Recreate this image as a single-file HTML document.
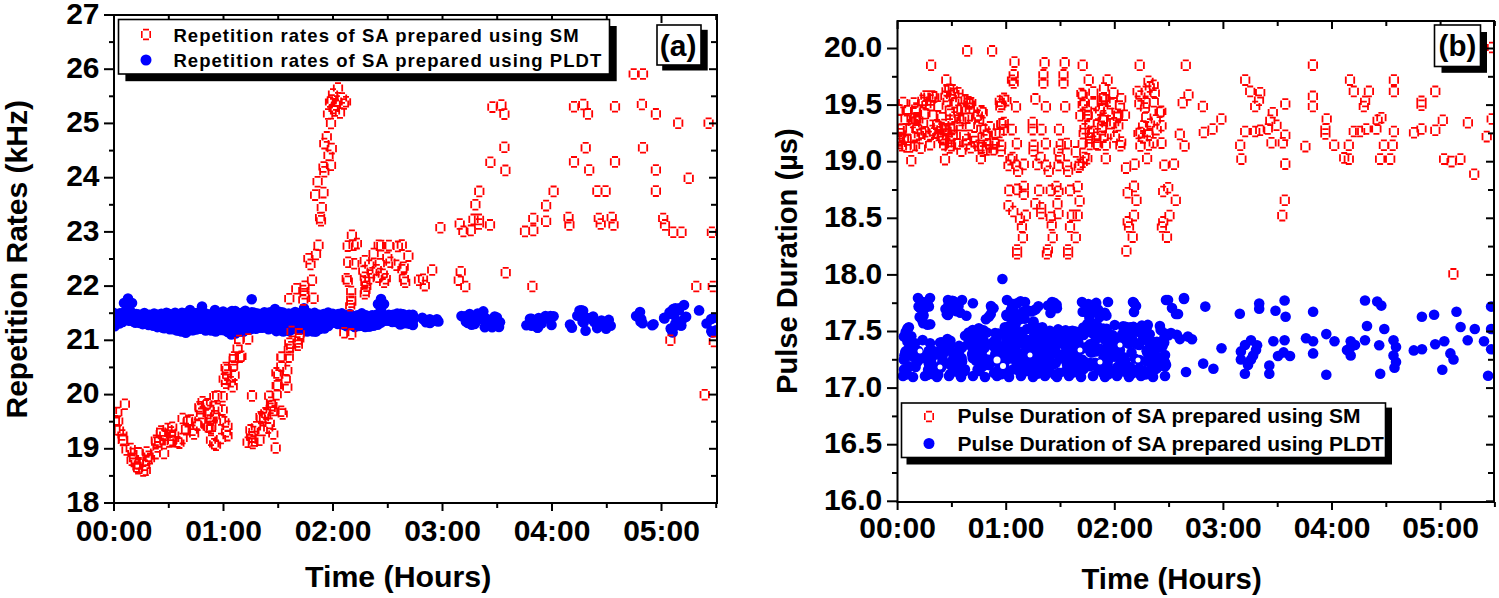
<!DOCTYPE html><html><head><meta charset="utf-8"><style>html,body{margin:0;padding:0;background:#fff;overflow:hidden}svg{display:block}</style></head><body><svg width="1499" height="598" viewBox="0 0 1499 598">
<rect width="1499" height="598" fill="#fff"/>
<defs><clipPath id="cl"><rect x="114" y="15" width="603" height="488"/></clipPath><clipPath id="cr"><rect x="898" y="21" width="596" height="481"/></clipPath></defs>
<g clip-path="url(#cl)">
<g fill="#00f">
<circle cx="251.7" cy="299.3" r="5.3"/>
<circle cx="113.4" cy="312.7" r="5.3"/>
<circle cx="113.7" cy="320.1" r="5.3"/>
<circle cx="115.5" cy="323.3" r="5.3"/>
<circle cx="114.7" cy="326.3" r="5.3"/>
<circle cx="119.9" cy="313.3" r="5.3"/>
<circle cx="120.4" cy="316.6" r="5.3"/>
<circle cx="119.3" cy="323.4" r="5.3"/>
<circle cx="123.4" cy="312.8" r="5.3"/>
<circle cx="122.6" cy="318.7" r="5.3"/>
<circle cx="122.6" cy="322.0" r="5.3"/>
<circle cx="128.0" cy="312.3" r="5.3"/>
<circle cx="129.1" cy="320.3" r="5.3"/>
<circle cx="128.9" cy="320.6" r="5.3"/>
<circle cx="131.0" cy="312.1" r="5.3"/>
<circle cx="130.9" cy="318.5" r="5.3"/>
<circle cx="130.6" cy="320.3" r="5.3"/>
<circle cx="136.2" cy="314.0" r="5.3"/>
<circle cx="133.9" cy="321.8" r="5.3"/>
<circle cx="135.4" cy="322.8" r="5.3"/>
<circle cx="138.7" cy="314.5" r="5.3"/>
<circle cx="138.1" cy="318.8" r="5.3"/>
<circle cx="139.9" cy="322.9" r="5.3"/>
<circle cx="144.4" cy="313.0" r="5.3"/>
<circle cx="144.4" cy="318.3" r="5.3"/>
<circle cx="142.7" cy="324.1" r="5.3"/>
<circle cx="143.5" cy="323.6" r="5.3"/>
<circle cx="149.4" cy="314.7" r="5.3"/>
<circle cx="148.2" cy="318.8" r="5.3"/>
<circle cx="149.2" cy="323.3" r="5.3"/>
<circle cx="148.6" cy="325.0" r="5.3"/>
<circle cx="154.1" cy="313.5" r="5.3"/>
<circle cx="152.0" cy="320.3" r="5.3"/>
<circle cx="153.9" cy="324.3" r="5.3"/>
<circle cx="153.2" cy="325.7" r="5.3"/>
<circle cx="157.3" cy="314.7" r="5.3"/>
<circle cx="157.5" cy="318.5" r="5.3"/>
<circle cx="157.0" cy="324.9" r="5.3"/>
<circle cx="157.3" cy="327.1" r="5.3"/>
<circle cx="161.3" cy="313.7" r="5.3"/>
<circle cx="163.2" cy="317.7" r="5.3"/>
<circle cx="161.5" cy="324.6" r="5.3"/>
<circle cx="162.2" cy="327.6" r="5.3"/>
<circle cx="166.4" cy="312.8" r="5.3"/>
<circle cx="164.8" cy="319.8" r="5.3"/>
<circle cx="164.8" cy="326.3" r="5.3"/>
<circle cx="164.3" cy="328.3" r="5.3"/>
<circle cx="168.7" cy="313.9" r="5.3"/>
<circle cx="169.7" cy="319.3" r="5.3"/>
<circle cx="170.6" cy="327.3" r="5.3"/>
<circle cx="169.8" cy="329.2" r="5.3"/>
<circle cx="175.1" cy="312.7" r="5.3"/>
<circle cx="173.3" cy="319.9" r="5.3"/>
<circle cx="175.0" cy="323.2" r="5.3"/>
<circle cx="172.5" cy="328.8" r="5.3"/>
<circle cx="172.7" cy="329.1" r="5.3"/>
<circle cx="178.2" cy="314.7" r="5.3"/>
<circle cx="178.8" cy="319.5" r="5.3"/>
<circle cx="176.7" cy="325.0" r="5.3"/>
<circle cx="178.9" cy="330.5" r="5.3"/>
<circle cx="176.9" cy="330.4" r="5.3"/>
<circle cx="182.0" cy="312.8" r="5.3"/>
<circle cx="181.3" cy="320.3" r="5.3"/>
<circle cx="182.1" cy="323.6" r="5.3"/>
<circle cx="182.0" cy="328.3" r="5.3"/>
<circle cx="181.4" cy="331.4" r="5.3"/>
<circle cx="184.2" cy="313.7" r="5.3"/>
<circle cx="184.9" cy="320.6" r="5.3"/>
<circle cx="186.1" cy="322.8" r="5.3"/>
<circle cx="185.1" cy="330.5" r="5.3"/>
<circle cx="185.8" cy="332.7" r="5.3"/>
<circle cx="187.4" cy="312.7" r="5.3"/>
<circle cx="189.6" cy="320.8" r="5.3"/>
<circle cx="189.0" cy="323.3" r="5.3"/>
<circle cx="188.3" cy="330.4" r="5.3"/>
<circle cx="189.6" cy="330.1" r="5.3"/>
<circle cx="191.4" cy="312.9" r="5.3"/>
<circle cx="194.0" cy="317.5" r="5.3"/>
<circle cx="193.2" cy="324.6" r="5.3"/>
<circle cx="192.9" cy="330.3" r="5.3"/>
<circle cx="192.5" cy="329.9" r="5.3"/>
<circle cx="196.5" cy="313.1" r="5.3"/>
<circle cx="197.1" cy="318.4" r="5.3"/>
<circle cx="197.0" cy="322.7" r="5.3"/>
<circle cx="196.3" cy="329.5" r="5.3"/>
<circle cx="201.0" cy="312.6" r="5.3"/>
<circle cx="200.9" cy="317.1" r="5.3"/>
<circle cx="200.5" cy="323.9" r="5.3"/>
<circle cx="199.8" cy="328.3" r="5.3"/>
<circle cx="200.3" cy="328.8" r="5.3"/>
<circle cx="205.8" cy="313.5" r="5.3"/>
<circle cx="205.6" cy="318.7" r="5.3"/>
<circle cx="205.6" cy="324.1" r="5.3"/>
<circle cx="207.0" cy="328.3" r="5.3"/>
<circle cx="205.7" cy="330.5" r="5.3"/>
<circle cx="210.6" cy="314.2" r="5.3"/>
<circle cx="210.1" cy="318.9" r="5.3"/>
<circle cx="212.2" cy="323.6" r="5.3"/>
<circle cx="210.2" cy="328.5" r="5.3"/>
<circle cx="211.1" cy="330.5" r="5.3"/>
<circle cx="214.0" cy="313.4" r="5.3"/>
<circle cx="216.6" cy="319.1" r="5.3"/>
<circle cx="216.6" cy="323.5" r="5.3"/>
<circle cx="213.8" cy="329.2" r="5.3"/>
<circle cx="215.7" cy="331.4" r="5.3"/>
<circle cx="218.9" cy="313.7" r="5.3"/>
<circle cx="220.9" cy="317.8" r="5.3"/>
<circle cx="220.0" cy="322.4" r="5.3"/>
<circle cx="220.8" cy="327.2" r="5.3"/>
<circle cx="220.8" cy="329.9" r="5.3"/>
<circle cx="223.1" cy="311.6" r="5.3"/>
<circle cx="225.6" cy="317.8" r="5.3"/>
<circle cx="223.4" cy="324.2" r="5.3"/>
<circle cx="225.3" cy="328.9" r="5.3"/>
<circle cx="224.2" cy="330.2" r="5.3"/>
<circle cx="227.7" cy="313.1" r="5.3"/>
<circle cx="228.1" cy="320.0" r="5.3"/>
<circle cx="228.9" cy="323.4" r="5.3"/>
<circle cx="227.1" cy="331.1" r="5.3"/>
<circle cx="227.8" cy="331.9" r="5.3"/>
<circle cx="232.1" cy="312.6" r="5.3"/>
<circle cx="232.0" cy="318.7" r="5.3"/>
<circle cx="232.1" cy="322.7" r="5.3"/>
<circle cx="231.3" cy="330.3" r="5.3"/>
<circle cx="231.3" cy="334.4" r="5.3"/>
<circle cx="235.2" cy="311.1" r="5.3"/>
<circle cx="235.6" cy="319.5" r="5.3"/>
<circle cx="236.3" cy="324.4" r="5.3"/>
<circle cx="237.2" cy="331.0" r="5.3"/>
<circle cx="235.4" cy="333.5" r="5.3"/>
<circle cx="238.6" cy="313.4" r="5.3"/>
<circle cx="239.8" cy="316.6" r="5.3"/>
<circle cx="238.7" cy="321.0" r="5.3"/>
<circle cx="240.0" cy="329.8" r="5.3"/>
<circle cx="239.7" cy="331.6" r="5.3"/>
<circle cx="242.7" cy="312.5" r="5.3"/>
<circle cx="243.4" cy="316.8" r="5.3"/>
<circle cx="243.8" cy="323.8" r="5.3"/>
<circle cx="243.9" cy="329.0" r="5.3"/>
<circle cx="243.3" cy="331.8" r="5.3"/>
<circle cx="245.3" cy="310.7" r="5.3"/>
<circle cx="245.3" cy="317.1" r="5.3"/>
<circle cx="245.0" cy="322.4" r="5.3"/>
<circle cx="245.4" cy="326.6" r="5.3"/>
<circle cx="246.8" cy="329.8" r="5.3"/>
<circle cx="251.9" cy="312.3" r="5.3"/>
<circle cx="251.5" cy="317.8" r="5.3"/>
<circle cx="252.1" cy="324.5" r="5.3"/>
<circle cx="249.5" cy="329.7" r="5.3"/>
<circle cx="251.4" cy="328.8" r="5.3"/>
<circle cx="254.3" cy="312.8" r="5.3"/>
<circle cx="254.7" cy="319.1" r="5.3"/>
<circle cx="253.9" cy="325.3" r="5.3"/>
<circle cx="256.0" cy="328.8" r="5.3"/>
<circle cx="255.5" cy="327.5" r="5.3"/>
<circle cx="257.7" cy="313.6" r="5.3"/>
<circle cx="260.0" cy="315.8" r="5.3"/>
<circle cx="257.5" cy="321.7" r="5.3"/>
<circle cx="259.8" cy="327.7" r="5.3"/>
<circle cx="264.4" cy="312.3" r="5.3"/>
<circle cx="263.6" cy="315.6" r="5.3"/>
<circle cx="263.1" cy="322.1" r="5.3"/>
<circle cx="264.2" cy="326.4" r="5.3"/>
<circle cx="262.7" cy="327.7" r="5.3"/>
<circle cx="269.1" cy="312.5" r="5.3"/>
<circle cx="267.1" cy="316.3" r="5.3"/>
<circle cx="269.0" cy="324.3" r="5.3"/>
<circle cx="268.5" cy="329.3" r="5.3"/>
<circle cx="271.1" cy="312.4" r="5.3"/>
<circle cx="273.1" cy="318.6" r="5.3"/>
<circle cx="273.8" cy="322.8" r="5.3"/>
<circle cx="273.5" cy="328.6" r="5.3"/>
<circle cx="276.9" cy="313.9" r="5.3"/>
<circle cx="274.4" cy="317.6" r="5.3"/>
<circle cx="275.8" cy="322.9" r="5.3"/>
<circle cx="276.7" cy="327.4" r="5.3"/>
<circle cx="276.3" cy="331.1" r="5.3"/>
<circle cx="280.2" cy="312.1" r="5.3"/>
<circle cx="279.0" cy="318.5" r="5.3"/>
<circle cx="280.7" cy="322.5" r="5.3"/>
<circle cx="281.0" cy="327.3" r="5.3"/>
<circle cx="281.2" cy="330.4" r="5.3"/>
<circle cx="283.0" cy="312.6" r="5.3"/>
<circle cx="283.2" cy="318.2" r="5.3"/>
<circle cx="283.0" cy="325.1" r="5.3"/>
<circle cx="284.9" cy="328.8" r="5.3"/>
<circle cx="283.3" cy="331.4" r="5.3"/>
<circle cx="288.7" cy="313.6" r="5.3"/>
<circle cx="286.9" cy="319.2" r="5.3"/>
<circle cx="287.3" cy="322.9" r="5.3"/>
<circle cx="287.8" cy="329.7" r="5.3"/>
<circle cx="289.2" cy="331.1" r="5.3"/>
<circle cx="292.3" cy="313.7" r="5.3"/>
<circle cx="292.3" cy="317.5" r="5.3"/>
<circle cx="291.7" cy="323.4" r="5.3"/>
<circle cx="292.4" cy="326.7" r="5.3"/>
<circle cx="291.2" cy="329.8" r="5.3"/>
<circle cx="295.2" cy="312.0" r="5.3"/>
<circle cx="297.7" cy="320.9" r="5.3"/>
<circle cx="297.6" cy="323.5" r="5.3"/>
<circle cx="297.2" cy="329.1" r="5.3"/>
<circle cx="300.1" cy="314.1" r="5.3"/>
<circle cx="300.9" cy="319.0" r="5.3"/>
<circle cx="298.4" cy="323.6" r="5.3"/>
<circle cx="298.7" cy="328.5" r="5.3"/>
<circle cx="301.9" cy="312.5" r="5.3"/>
<circle cx="302.1" cy="317.7" r="5.3"/>
<circle cx="303.5" cy="324.1" r="5.3"/>
<circle cx="304.6" cy="327.6" r="5.3"/>
<circle cx="302.4" cy="329.3" r="5.3"/>
<circle cx="309.0" cy="313.3" r="5.3"/>
<circle cx="307.3" cy="317.9" r="5.3"/>
<circle cx="308.6" cy="324.0" r="5.3"/>
<circle cx="308.1" cy="329.0" r="5.3"/>
<circle cx="307.2" cy="331.4" r="5.3"/>
<circle cx="311.3" cy="314.2" r="5.3"/>
<circle cx="311.4" cy="317.6" r="5.3"/>
<circle cx="313.4" cy="322.3" r="5.3"/>
<circle cx="311.9" cy="328.1" r="5.3"/>
<circle cx="313.0" cy="331.5" r="5.3"/>
<circle cx="314.6" cy="312.9" r="5.3"/>
<circle cx="315.4" cy="318.0" r="5.3"/>
<circle cx="316.0" cy="323.1" r="5.3"/>
<circle cx="315.7" cy="328.9" r="5.3"/>
<circle cx="315.9" cy="331.6" r="5.3"/>
<circle cx="319.5" cy="314.9" r="5.3"/>
<circle cx="321.3" cy="319.4" r="5.3"/>
<circle cx="319.0" cy="325.0" r="5.3"/>
<circle cx="319.6" cy="329.0" r="5.3"/>
<circle cx="323.7" cy="314.1" r="5.3"/>
<circle cx="325.8" cy="317.6" r="5.3"/>
<circle cx="325.0" cy="322.1" r="5.3"/>
<circle cx="324.5" cy="328.4" r="5.3"/>
<circle cx="328.1" cy="312.5" r="5.3"/>
<circle cx="327.8" cy="319.7" r="5.3"/>
<circle cx="328.4" cy="324.1" r="5.3"/>
<circle cx="328.4" cy="325.9" r="5.3"/>
<circle cx="332.8" cy="313.9" r="5.3"/>
<circle cx="334.3" cy="317.5" r="5.3"/>
<circle cx="334.0" cy="322.8" r="5.3"/>
<circle cx="338.2" cy="314.0" r="5.3"/>
<circle cx="339.6" cy="319.8" r="5.3"/>
<circle cx="337.8" cy="323.9" r="5.3"/>
<circle cx="341.8" cy="313.4" r="5.3"/>
<circle cx="343.2" cy="319.9" r="5.3"/>
<circle cx="343.1" cy="324.6" r="5.3"/>
<circle cx="347.5" cy="315.3" r="5.3"/>
<circle cx="345.9" cy="321.8" r="5.3"/>
<circle cx="346.3" cy="326.1" r="5.3"/>
<circle cx="349.9" cy="314.0" r="5.3"/>
<circle cx="350.2" cy="322.1" r="5.3"/>
<circle cx="350.2" cy="325.1" r="5.3"/>
<circle cx="353.0" cy="316.1" r="5.3"/>
<circle cx="353.6" cy="320.3" r="5.3"/>
<circle cx="354.7" cy="327.0" r="5.3"/>
<circle cx="357.3" cy="315.4" r="5.3"/>
<circle cx="359.6" cy="319.7" r="5.3"/>
<circle cx="359.6" cy="325.5" r="5.3"/>
<circle cx="358.7" cy="326.0" r="5.3"/>
<circle cx="361.8" cy="313.4" r="5.3"/>
<circle cx="363.1" cy="318.5" r="5.3"/>
<circle cx="363.1" cy="325.8" r="5.3"/>
<circle cx="361.9" cy="325.5" r="5.3"/>
<circle cx="366.0" cy="315.4" r="5.3"/>
<circle cx="365.1" cy="323.0" r="5.3"/>
<circle cx="365.2" cy="326.9" r="5.3"/>
<circle cx="371.2" cy="315.8" r="5.3"/>
<circle cx="369.2" cy="320.1" r="5.3"/>
<circle cx="368.4" cy="326.5" r="5.3"/>
<circle cx="369.8" cy="326.5" r="5.3"/>
<circle cx="372.4" cy="315.2" r="5.3"/>
<circle cx="372.8" cy="318.4" r="5.3"/>
<circle cx="372.9" cy="324.0" r="5.3"/>
<circle cx="373.6" cy="325.8" r="5.3"/>
<circle cx="376.4" cy="314.9" r="5.3"/>
<circle cx="376.0" cy="321.7" r="5.3"/>
<circle cx="377.7" cy="324.8" r="5.3"/>
<circle cx="382.8" cy="316.2" r="5.3"/>
<circle cx="381.6" cy="321.2" r="5.3"/>
<circle cx="380.8" cy="322.7" r="5.3"/>
<circle cx="383.5" cy="315.2" r="5.3"/>
<circle cx="385.2" cy="320.5" r="5.3"/>
<circle cx="385.1" cy="320.6" r="5.3"/>
<circle cx="388.8" cy="314.8" r="5.3"/>
<circle cx="388.9" cy="320.7" r="5.3"/>
<circle cx="388.1" cy="320.1" r="5.3"/>
<circle cx="393.1" cy="314.8" r="5.3"/>
<circle cx="392.3" cy="319.6" r="5.3"/>
<circle cx="392.3" cy="322.0" r="5.3"/>
<circle cx="397.2" cy="313.6" r="5.3"/>
<circle cx="395.7" cy="319.8" r="5.3"/>
<circle cx="395.9" cy="321.9" r="5.3"/>
<circle cx="400.6" cy="313.8" r="5.3"/>
<circle cx="401.7" cy="321.8" r="5.3"/>
<circle cx="400.3" cy="324.5" r="5.3"/>
<circle cx="403.3" cy="314.2" r="5.3"/>
<circle cx="403.9" cy="321.3" r="5.3"/>
<circle cx="404.7" cy="323.2" r="5.3"/>
<circle cx="409.1" cy="314.8" r="5.3"/>
<circle cx="408.3" cy="320.0" r="5.3"/>
<circle cx="408.7" cy="323.6" r="5.3"/>
<circle cx="412.9" cy="314.9" r="5.3"/>
<circle cx="413.2" cy="320.3" r="5.3"/>
<circle cx="412.9" cy="324.9" r="5.3"/>
<circle cx="128.0" cy="298.5" r="5.3"/>
<circle cx="124.0" cy="303.0" r="5.3"/>
<circle cx="132.0" cy="303.0" r="5.3"/>
<circle cx="128.0" cy="308.0" r="5.3"/>
<circle cx="381.0" cy="299.0" r="5.3"/>
<circle cx="378.0" cy="304.0" r="5.3"/>
<circle cx="384.0" cy="304.0" r="5.3"/>
<circle cx="381.0" cy="309.0" r="5.3"/>
<circle cx="190.0" cy="310.0" r="5.3"/>
<circle cx="202.0" cy="306.5" r="5.3"/>
<circle cx="215.0" cy="310.0" r="5.3"/>
<circle cx="232.0" cy="311.0" r="5.3"/>
<circle cx="275.0" cy="309.0" r="5.3"/>
<circle cx="304.0" cy="308.3" r="5.3"/>
<circle cx="406.0" cy="321.4" r="5.3"/>
<circle cx="409.4" cy="316.1" r="5.3"/>
<circle cx="408.6" cy="321.4" r="5.3"/>
<circle cx="406.4" cy="321.1" r="5.3"/>
<circle cx="404.3" cy="322.8" r="5.3"/>
<circle cx="405.4" cy="322.0" r="5.3"/>
<circle cx="422.3" cy="317.7" r="5.3"/>
<circle cx="430.0" cy="322.9" r="5.3"/>
<circle cx="425.9" cy="322.2" r="5.3"/>
<circle cx="423.2" cy="319.2" r="5.3"/>
<circle cx="438.4" cy="321.5" r="5.3"/>
<circle cx="429.8" cy="319.3" r="5.3"/>
<circle cx="436.2" cy="320.9" r="5.3"/>
<circle cx="436.9" cy="319.2" r="5.3"/>
<circle cx="469.8" cy="323.0" r="5.3"/>
<circle cx="484.4" cy="320.3" r="5.3"/>
<circle cx="494.7" cy="316.5" r="5.3"/>
<circle cx="492.1" cy="327.2" r="5.3"/>
<circle cx="470.9" cy="320.6" r="5.3"/>
<circle cx="482.8" cy="319.4" r="5.3"/>
<circle cx="465.9" cy="321.6" r="5.3"/>
<circle cx="500.0" cy="322.3" r="5.3"/>
<circle cx="471.6" cy="324.7" r="5.3"/>
<circle cx="477.7" cy="313.5" r="5.3"/>
<circle cx="486.5" cy="318.8" r="5.3"/>
<circle cx="484.8" cy="327.2" r="5.3"/>
<circle cx="474.6" cy="323.9" r="5.3"/>
<circle cx="461.5" cy="316.1" r="5.3"/>
<circle cx="490.5" cy="322.7" r="5.3"/>
<circle cx="496.9" cy="317.5" r="5.3"/>
<circle cx="470.9" cy="317.1" r="5.3"/>
<circle cx="483.3" cy="311.4" r="5.3"/>
<circle cx="475.6" cy="322.2" r="5.3"/>
<circle cx="465.0" cy="316.3" r="5.3"/>
<circle cx="499.0" cy="326.9" r="5.3"/>
<circle cx="469.7" cy="314.0" r="5.3"/>
<circle cx="495.3" cy="323.6" r="5.3"/>
<circle cx="470.4" cy="319.3" r="5.3"/>
<circle cx="496.5" cy="325.6" r="5.3"/>
<circle cx="467.9" cy="323.0" r="5.3"/>
<circle cx="545.3" cy="318.4" r="5.3"/>
<circle cx="550.5" cy="316.1" r="5.3"/>
<circle cx="538.7" cy="318.0" r="5.3"/>
<circle cx="537.8" cy="327.4" r="5.3"/>
<circle cx="541.5" cy="323.6" r="5.3"/>
<circle cx="553.6" cy="316.2" r="5.3"/>
<circle cx="531.5" cy="323.8" r="5.3"/>
<circle cx="534.9" cy="320.4" r="5.3"/>
<circle cx="537.5" cy="327.7" r="5.3"/>
<circle cx="551.5" cy="324.9" r="5.3"/>
<circle cx="530.0" cy="318.7" r="5.3"/>
<circle cx="545.5" cy="316.1" r="5.3"/>
<circle cx="531.6" cy="318.9" r="5.3"/>
<circle cx="531.6" cy="325.7" r="5.3"/>
<circle cx="526.4" cy="325.2" r="5.3"/>
<circle cx="571.9" cy="327.7" r="5.3"/>
<circle cx="594.5" cy="322.2" r="5.3"/>
<circle cx="585.6" cy="330.7" r="5.3"/>
<circle cx="597.2" cy="328.1" r="5.3"/>
<circle cx="570.0" cy="324.6" r="5.3"/>
<circle cx="577.3" cy="315.7" r="5.3"/>
<circle cx="600.4" cy="324.6" r="5.3"/>
<circle cx="584.2" cy="319.8" r="5.3"/>
<circle cx="582.6" cy="321.8" r="5.3"/>
<circle cx="585.7" cy="317.6" r="5.3"/>
<circle cx="580.7" cy="316.1" r="5.3"/>
<circle cx="581.3" cy="310.3" r="5.3"/>
<circle cx="583.6" cy="322.4" r="5.3"/>
<circle cx="581.6" cy="312.4" r="5.3"/>
<circle cx="608.8" cy="319.9" r="5.3"/>
<circle cx="593.1" cy="316.5" r="5.3"/>
<circle cx="610.7" cy="325.8" r="5.3"/>
<circle cx="598.3" cy="323.8" r="5.3"/>
<circle cx="601.5" cy="320.5" r="5.3"/>
<circle cx="588.4" cy="318.2" r="5.3"/>
<circle cx="592.7" cy="319.8" r="5.3"/>
<circle cx="593.9" cy="321.2" r="5.3"/>
<circle cx="606.1" cy="328.7" r="5.3"/>
<circle cx="579.5" cy="310.5" r="5.3"/>
<circle cx="583.1" cy="310.7" r="5.3"/>
<circle cx="606.4" cy="323.0" r="5.3"/>
<circle cx="636.1" cy="316.1" r="5.3"/>
<circle cx="642.6" cy="323.2" r="5.3"/>
<circle cx="640.5" cy="321.6" r="5.3"/>
<circle cx="641.2" cy="319.0" r="5.3"/>
<circle cx="664.5" cy="318.5" r="5.3"/>
<circle cx="669.5" cy="312.4" r="5.3"/>
<circle cx="673.3" cy="309.0" r="5.3"/>
<circle cx="653.5" cy="324.3" r="5.3"/>
<circle cx="672.7" cy="310.3" r="5.3"/>
<circle cx="652.2" cy="325.3" r="5.3"/>
<circle cx="679.1" cy="308.2" r="5.3"/>
<circle cx="670.1" cy="313.7" r="5.3"/>
<circle cx="679.0" cy="310.1" r="5.3"/>
<circle cx="675.3" cy="308.2" r="5.3"/>
<circle cx="672.3" cy="313.7" r="5.3"/>
<circle cx="664.1" cy="317.9" r="5.3"/>
<circle cx="675.1" cy="325.8" r="5.3"/>
<circle cx="671.5" cy="329.5" r="5.3"/>
<circle cx="670.7" cy="328.5" r="5.3"/>
<circle cx="675.4" cy="323.6" r="5.3"/>
<circle cx="686.1" cy="316.8" r="5.3"/>
<circle cx="685.3" cy="317.1" r="5.3"/>
<circle cx="681.5" cy="321.1" r="5.3"/>
<circle cx="699.1" cy="310.4" r="5.3"/>
<circle cx="681.3" cy="325.4" r="5.3"/>
<circle cx="680.9" cy="325.4" r="5.3"/>
<circle cx="672.6" cy="332.5" r="5.3"/>
<circle cx="680.6" cy="322.7" r="5.3"/>
<circle cx="715.5" cy="331.4" r="5.3"/>
<circle cx="711.3" cy="331.2" r="5.3"/>
<circle cx="716.0" cy="330.4" r="5.3"/>
<circle cx="712.2" cy="332.4" r="5.3"/>
<circle cx="706.6" cy="323.5" r="5.3"/>
<circle cx="711.2" cy="319.1" r="5.3"/>
<circle cx="713.6" cy="318.0" r="5.3"/>
<circle cx="684.0" cy="305.0" r="5.3"/>
<circle cx="640.0" cy="312.0" r="5.3"/>
<circle cx="674.0" cy="315.0" r="5.3"/>
</g>
<g fill="none" stroke="#f00" stroke-width="1.8">
<path d="M121.9 399.3h6M129.1 400.6v7.2M127.9 409.1h-6M120.7 407.8v-7.2M114.3 407.7h6M121.5 409.0v7.2M120.3 417.5h-6M113.1 416.2v-7.2M115.2 416.1h6M122.4 417.4v7.2M121.2 425.9h-6M114.0 424.6v-7.2M116.0 425.1h6M123.2 426.4v7.2M122.0 434.9h-6M114.8 433.6v-7.2M119.4 430.1h6M126.6 431.4v7.2M125.4 439.9h-6M118.2 438.6v-7.2M120.2 434.5h6M127.4 435.8v7.2M126.2 444.3h-6M119.0 443.0v-7.2M123.5 445.1h6M130.7 446.4v7.2M129.5 454.9h-6M122.3 453.6v-7.2M127.7 443.7h6M134.9 445.0v7.2M133.7 453.5h-6M126.5 452.2v-7.2M129.4 448.7h6M136.6 450.0v7.2M135.4 458.5h-6M128.2 457.2v-7.2M131.0 453.7h6M138.2 455.0v7.2M137.0 463.5h-6M129.8 462.2v-7.2M128.6 455.4h6M135.8 456.7v7.2M134.6 465.2h-6M127.4 463.9v-7.2M132.7 458.7h6M139.9 460.0v7.2M138.7 468.5h-6M131.5 467.2v-7.2M134.4 462.1h6M141.6 463.4v7.2M140.4 471.9h-6M133.2 470.6v-7.2M142.8 465.4h6M150.0 466.7v7.2M148.8 475.2h-6M141.6 473.9v-7.2M142.0 460.4h6M149.2 461.7v7.2M148.0 470.2h-6M140.8 468.9v-7.2M144.4 455.4h6M151.6 456.7v7.2M150.4 465.2h-6M143.2 463.9v-7.2M143.6 447.1h6M150.8 448.4v7.2M149.6 456.9h-6M142.4 455.6v-7.2M147.0 453.7h6M154.2 455.0v7.2M153.0 463.5h-6M145.8 462.2v-7.2M152.8 448.7h6M160.0 450.0v7.2M158.8 458.5h-6M151.6 457.2v-7.2M154.5 442.0h6M161.7 443.3v7.2M160.5 451.8h-6M153.3 450.5v-7.2M156.0 437.0h6M163.2 438.3v7.2M162.0 446.8h-6M154.8 445.5v-7.2M152.8 435.3h6M160.0 436.6v7.2M158.8 445.1h-6M151.6 443.8v-7.2M157.8 428.6h6M165.0 429.9v7.2M163.8 438.4h-6M156.6 437.1v-7.2M161.2 430.3h6M168.4 431.6v7.2M167.2 440.1h-6M160.0 438.8v-7.2M164.5 423.6h6M171.7 424.9v7.2M170.5 433.4h-6M163.3 432.1v-7.2M167.9 430.3h6M175.1 431.6v7.2M173.9 440.1h-6M166.7 438.8v-7.2M166.2 437.0h6M173.4 438.3v7.2M172.2 446.8h-6M165.0 445.5v-7.2M171.2 430.3h6M178.4 431.6v7.2M177.2 440.1h-6M170.0 438.8v-7.2M174.5 437.0h6M181.7 438.3v7.2M180.5 446.8h-6M173.3 445.5v-7.2M179.6 433.6h6M186.8 434.9v7.2M185.6 443.4h-6M178.4 442.1v-7.2M179.6 413.6h6M186.8 414.9v7.2M185.6 423.4h-6M178.4 422.1v-7.2M183.0 423.6h6M190.2 424.9v7.2M189.0 433.4h-6M181.8 432.1v-7.2M184.6 416.9h6M191.8 418.2v7.2M190.6 426.7h-6M183.4 425.4v-7.2M188.0 415.1h6M195.2 416.4v7.2M194.0 424.9h-6M186.8 423.6v-7.2M189.6 425.3h6M196.8 426.6v7.2M195.6 435.1h-6M188.4 433.8v-7.2M194.6 420.3h6M201.8 421.6v7.2M200.6 430.1h-6M193.4 428.8v-7.2M196.3 401.9h6M203.5 403.2v7.2M202.3 411.7h-6M195.1 410.4v-7.2M198.0 408.5h6M205.2 409.8v7.2M204.0 418.3h-6M196.8 417.0v-7.2M199.6 396.8h6M206.8 398.1v7.2M205.6 406.6h-6M198.4 405.3v-7.2M203.0 400.1h6M210.2 401.4v7.2M209.0 409.9h-6M201.8 408.6v-7.2M204.6 408.5h6M211.8 409.8v7.2M210.6 418.3h-6M203.4 417.0v-7.2M206.3 415.2h6M213.5 416.5v7.2M212.3 425.0h-6M205.1 423.7v-7.2M208.0 423.6h6M215.2 424.9v7.2M214.0 433.4h-6M206.8 432.1v-7.2M204.6 421.9h6M211.8 423.2v7.2M210.6 431.7h-6M203.4 430.4v-7.2M208.0 435.3h6M215.2 436.6v7.2M214.0 445.1h-6M206.8 443.8v-7.2M213.0 440.3h6M220.2 441.6v7.2M219.0 450.1h-6M211.8 448.8v-7.2M211.3 391.8h6M218.5 393.1v7.2M217.3 401.6h-6M210.1 400.3v-7.2M214.7 403.5h6M221.9 404.8v7.2M220.7 413.3h-6M213.5 412.0v-7.2M219.7 405.1h6M226.9 406.4v7.2M225.7 414.9h-6M218.5 413.6v-7.2M221.4 416.9h6M228.6 418.2v7.2M227.4 426.7h-6M220.2 425.4v-7.2M218.0 415.1h6M225.2 416.4v7.2M224.0 424.9h-6M216.8 423.6v-7.2M223.0 426.9h6M230.2 428.2v7.2M229.0 436.7h-6M221.8 435.4v-7.2M218.0 433.6h6M225.2 434.9v7.2M224.0 443.4h-6M216.8 442.1v-7.2M219.7 391.8h6M226.9 393.1v7.2M225.7 401.6h-6M218.5 400.3v-7.2M223.0 378.4h6M230.2 379.7v7.2M229.0 388.2h-6M221.8 386.9v-7.2M229.7 381.8h6M236.9 383.1v7.2M235.7 391.6h-6M228.5 390.3v-7.2M249.0 391.0h6M256.2 392.3v7.2M255.0 400.8h-6M247.8 399.5v-7.2M248.0 432.0h6M255.2 433.3v7.2M254.0 441.8h-6M246.8 440.5v-7.2M253.0 421.9h6M260.2 423.2v7.2M259.0 431.7h-6M251.8 430.4v-7.2M258.0 413.6h6M265.2 414.9v7.2M264.0 423.4h-6M256.8 422.1v-7.2M249.8 438.6h6M257.0 439.9v7.2M255.8 448.4h-6M248.6 447.1v-7.2M256.5 435.3h6M263.7 436.6v7.2M262.5 445.1h-6M255.3 443.8v-7.2M335.0 83.1h6M342.2 84.4v7.2M341.0 92.9h-6M333.8 91.6v-7.2M330.0 89.1h6M337.2 90.4v7.2M336.0 98.9h-6M328.8 97.6v-7.2M339.0 93.1h6M346.2 94.4v7.2M345.0 102.9h-6M337.8 101.6v-7.2M327.0 97.1h6M334.2 98.4v7.2M333.0 106.9h-6M325.8 105.6v-7.2M333.0 100.1h6M340.2 101.4v7.2M339.0 109.9h-6M331.8 108.6v-7.2M341.0 99.1h6M348.2 100.4v7.2M347.0 108.9h-6M339.8 107.6v-7.2M332.0 106.1h6M339.2 107.4v7.2M338.0 115.9h-6M330.8 114.6v-7.2M337.0 108.1h6M344.2 109.4v7.2M343.0 117.9h-6M335.8 116.6v-7.2M325.0 109.1h6M332.2 110.4v7.2M331.0 118.9h-6M323.8 117.6v-7.2M328.8 95.2h6M336.0 96.5v7.2M334.8 105.0h-6M327.6 103.7v-7.2M333.9 96.1h6M341.1 97.4v7.2M339.9 105.9h-6M332.7 104.6v-7.2M343.0 96.9h6M350.2 98.2v7.2M349.0 106.7h-6M341.8 105.4v-7.2M330.5 103.6h6M337.7 104.9v7.2M336.5 113.4h-6M329.3 112.1v-7.2M328.0 118.6h6M335.2 119.9v7.2M334.0 128.4h-6M326.8 127.1v-7.2M323.8 132.0h6M331.0 133.3v7.2M329.8 141.8h-6M322.6 140.5v-7.2M321.3 138.7h6M328.5 140.0v7.2M327.3 148.5h-6M320.1 147.2v-7.2M328.8 143.7h6M336.0 145.0v7.2M334.8 153.5h-6M327.6 152.2v-7.2M325.5 150.4h6M332.7 151.7v7.2M331.5 160.2h-6M324.3 158.9v-7.2M320.5 162.1h6M327.7 163.4v7.2M326.5 171.9h-6M319.3 170.6v-7.2M328.0 160.4h6M335.2 161.7v7.2M334.0 170.2h-6M326.8 168.9v-7.2M321.3 166.8h6M328.5 168.1v7.2M327.3 176.6h-6M320.1 175.3v-7.2M314.6 176.8h6M321.8 178.1v7.2M320.6 186.6h-6M313.4 185.3v-7.2M320.5 187.7h6M327.7 189.0v7.2M326.5 197.5h-6M319.3 196.2v-7.2M312.1 190.2h6M319.3 191.5v7.2M318.1 200.0h-6M310.9 198.7v-7.2M318.8 202.8h6M326.0 204.1v7.2M324.8 212.6h-6M317.6 211.3v-7.2M317.1 212.8h6M324.3 214.1v7.2M323.1 222.6h-6M315.9 221.3v-7.2M315.5 240.4h6M322.7 241.7v7.2M321.5 250.2h-6M314.3 248.9v-7.2M313.0 249.6h6M320.2 250.9v7.2M319.0 259.4h-6M311.8 258.1v-7.2M305.4 253.8h6M312.6 255.1v7.2M311.4 263.6h-6M304.2 262.3v-7.2M348.9 230.4h6M356.1 231.7v7.2M354.9 240.2h-6M347.7 238.9v-7.2M350.6 240.4h6M357.8 241.7v7.2M356.6 250.2h-6M349.4 248.9v-7.2M344.7 241.2h6M351.9 242.5v7.2M350.7 251.0h-6M343.5 249.7v-7.2M353.9 238.7h6M361.1 240.0v7.2M359.9 248.5h-6M352.7 247.2v-7.2M375.7 240.4h6M382.9 241.7v7.2M381.7 250.2h-6M374.5 248.9v-7.2M370.6 248.7h6M377.8 250.0v7.2M376.6 258.5h-6M369.4 257.2v-7.2M318.0 215.9h6M325.2 217.2v7.2M324.0 225.7h-6M316.8 224.4v-7.2M307.5 259.5h6M314.7 260.8v7.2M313.5 269.3h-6M306.3 268.0v-7.2M309.0 275.3h6M316.2 276.6v7.2M315.0 285.1h-6M307.8 283.8v-7.2M301.5 281.4h6M308.7 282.7v7.2M307.5 291.2h-6M300.3 289.9v-7.2M301.5 288.9h6M308.7 290.2v7.2M307.5 298.7h-6M300.3 297.4v-7.2M310.6 293.4h6M317.8 294.7v7.2M316.6 303.2h-6M309.4 301.9v-7.2M345.2 257.3h6M352.4 258.6v7.2M351.2 267.1h-6M344.0 265.8v-7.2M351.2 258.8h6M358.4 260.1v7.2M357.2 268.6h-6M350.0 267.3v-7.2M343.7 273.8h6M350.9 275.1v7.2M349.7 283.6h-6M342.5 282.3v-7.2M348.2 286.6h6M355.4 287.9v7.2M354.2 296.4h-6M347.0 295.1v-7.2M348.2 294.1h6M355.4 295.4v7.2M354.2 303.9h-6M347.0 302.6v-7.2M361.8 255.8h6M369.0 257.1v7.2M367.8 265.6h-6M360.6 264.3v-7.2M366.3 260.3h6M373.5 261.6v7.2M372.3 270.1h-6M365.1 268.8v-7.2M360.3 266.3h6M367.5 267.6v7.2M366.3 276.1h-6M359.1 274.8v-7.2M361.8 272.3h6M369.0 273.6v7.2M367.8 282.1h-6M360.6 280.8v-7.2M366.3 273.8h6M373.5 275.1v7.2M372.3 283.6h-6M365.1 282.3v-7.2M363.3 281.4h6M370.5 282.7v7.2M369.3 291.2h-6M362.1 289.9v-7.2M361.8 288.9h6M369.0 290.2v7.2M367.8 298.7h-6M360.6 297.4v-7.2M378.3 240.7h6M385.5 242.0v7.2M384.3 250.5h-6M377.1 249.2v-7.2M385.9 240.7h6M393.1 242.0v7.2M391.9 250.5h-6M384.7 249.2v-7.2M394.9 241.5h6M402.1 242.8v7.2M400.9 251.3h-6M393.7 250.0v-7.2M405.4 251.2h6M412.6 252.5v7.2M411.4 261.0h-6M404.2 259.7v-7.2M384.3 252.7h6M391.5 254.0v7.2M390.3 262.5h-6M383.1 261.2v-7.2M387.4 257.3h6M394.6 258.6v7.2M393.4 267.1h-6M386.2 265.8v-7.2M376.8 258.8h6M384.0 260.1v7.2M382.8 268.6h-6M375.6 267.3v-7.2M373.8 264.8h6M381.0 266.1v7.2M379.8 274.6h-6M372.6 273.3v-7.2M379.8 269.3h6M387.0 270.6v7.2M385.8 279.1h-6M378.6 277.8v-7.2M382.8 273.8h6M390.0 275.1v7.2M388.8 283.6h-6M381.6 282.3v-7.2M375.3 272.3h6M382.5 273.6v7.2M381.3 282.1h-6M374.1 280.8v-7.2M393.4 260.3h6M400.6 261.6v7.2M399.4 270.1h-6M392.2 268.8v-7.2M399.4 264.8h6M406.6 266.1v7.2M405.4 274.6h-6M398.2 273.3v-7.2M400.9 273.8h6M408.1 275.1v7.2M406.9 283.6h-6M399.7 282.3v-7.2M369.3 267.8h6M376.5 269.1v7.2M375.3 277.6h-6M368.1 276.3v-7.2M416.0 275.3h6M423.2 276.6v7.2M422.0 285.1h-6M414.8 283.8v-7.2M489.4 102.2h6M496.6 103.5v7.2M495.4 112.0h-6M488.2 110.7v-7.2M498.4 100.2h6M505.6 101.5v7.2M504.4 110.0h-6M497.2 108.7v-7.2M501.4 109.2h6M508.6 110.5v7.2M507.4 119.0h-6M500.2 117.7v-7.2M501.4 142.4h6M508.6 143.7v7.2M507.4 152.2h-6M500.2 150.9v-7.2M487.4 157.4h6M494.6 158.7v7.2M493.4 167.2h-6M486.2 165.9v-7.2M502.4 165.5h6M509.6 166.8v7.2M508.4 175.3h-6M501.2 174.0v-7.2M476.3 186.5h6M483.5 187.8v7.2M482.3 196.3h-6M475.1 195.0v-7.2M550.6 186.5h6M557.8 187.8v7.2M556.6 196.3h-6M549.4 195.0v-7.2M472.4 199.8h6M479.6 201.1v7.2M478.4 209.6h-6M471.2 208.3v-7.2M543.1 200.7h6M550.3 202.0v7.2M549.1 210.5h-6M541.9 209.2v-7.2M437.4 222.8h6M444.6 224.1v7.2M443.4 232.6h-6M436.2 231.3v-7.2M456.7 219.1h6M463.9 220.4v7.2M462.7 228.9h-6M455.5 227.6v-7.2M460.4 226.5h6M467.6 227.8v7.2M466.4 236.3h-6M459.2 235.0v-7.2M467.8 225.5h6M475.0 226.8v7.2M473.8 235.3h-6M466.6 234.0v-7.2M470.5 214.5h6M477.7 215.8v7.2M476.5 224.3h-6M469.3 223.0v-7.2M476.0 214.5h6M483.2 215.8v7.2M482.0 224.3h-6M474.8 223.0v-7.2M476.0 219.1h6M483.2 220.4v7.2M482.0 228.9h-6M474.8 227.6v-7.2M487.0 220.0h6M494.2 221.3v7.2M493.0 229.8h-6M485.8 228.5v-7.2M530.3 213.6h6M537.5 214.9v7.2M536.3 223.4h-6M529.1 222.1v-7.2M543.1 216.4h6M550.3 217.7v7.2M549.1 226.2h-6M541.9 224.9v-7.2M522.0 226.5h6M529.2 227.8v7.2M528.0 236.3h-6M520.8 235.0v-7.2M530.3 225.5h6M537.5 226.8v7.2M536.3 235.3h-6M529.1 234.0v-7.2M398.8 240.2h6M406.0 241.5v7.2M404.8 250.0h-6M397.6 248.7v-7.2M400.7 262.3h6M407.9 263.6v7.2M406.7 272.1h-6M399.5 270.8v-7.2M429.2 265.1h6M436.4 266.4v7.2M435.2 274.9h-6M428.0 273.6v-7.2M420.0 274.3h6M427.2 275.6v7.2M426.0 284.1h-6M418.8 282.8v-7.2M421.8 280.7h6M429.0 282.0v7.2M427.8 290.5h-6M420.6 289.2v-7.2M457.7 266.9h6M464.9 268.2v7.2M463.7 276.7h-6M456.5 275.4v-7.2M455.8 275.2h6M463.0 276.5v7.2M461.8 285.0h-6M454.6 283.7v-7.2M462.3 281.6h6M469.5 282.9v7.2M468.3 291.4h-6M461.1 290.1v-7.2M502.7 267.8h6M509.9 269.1v7.2M508.7 277.6h-6M501.5 276.3v-7.2M529.4 281.6h6M536.6 282.9v7.2M535.4 291.4h-6M528.2 290.1v-7.2M630.7 69.1h6M637.9 70.4v7.2M636.7 78.9h-6M629.5 77.6v-7.2M640.0 69.1h6M647.2 70.4v7.2M646.0 78.9h-6M638.8 77.6v-7.2M571.0 101.9h6M578.2 103.2v7.2M577.0 111.7h-6M569.8 110.4v-7.2M580.3 99.6h6M587.5 100.9v7.2M586.3 109.4h-6M579.1 108.1v-7.2M585.0 109.0h6M592.2 110.3v7.2M591.0 118.8h-6M583.8 117.5v-7.2M612.0 101.9h6M619.2 103.2v7.2M618.0 111.7h-6M610.8 110.4v-7.2M638.9 99.6h6M646.1 100.9v7.2M644.9 109.4h-6M637.7 108.1v-7.2M652.9 109.0h6M660.1 110.3v7.2M658.9 118.8h-6M651.7 117.5v-7.2M675.2 118.3h6M682.4 119.6v7.2M681.2 128.1h-6M674.0 126.8v-7.2M705.6 118.3h6M712.8 119.6v7.2M711.6 128.1h-6M704.4 126.8v-7.2M582.7 142.9h6M589.9 144.2v7.2M588.7 152.7h-6M581.5 151.4v-7.2M640.0 142.9h6M647.2 144.2v7.2M646.0 152.7h-6M638.8 151.4v-7.2M571.0 157.0h6M578.2 158.3v7.2M577.0 166.8h-6M569.8 165.5v-7.2M612.0 157.0h6M619.2 158.3v7.2M618.0 166.8h-6M610.8 165.5v-7.2M586.2 165.1h6M593.4 166.4v7.2M592.2 174.9h-6M585.0 173.6v-7.2M652.9 165.1h6M660.1 166.4v7.2M658.9 174.9h-6M651.7 173.6v-7.2M685.7 173.4h6M692.9 174.7v7.2M691.7 183.2h-6M684.5 181.9v-7.2M594.4 186.2h6M601.6 187.5v7.2M600.4 196.0h-6M593.2 194.7v-7.2M602.6 186.2h6M609.8 187.5v7.2M608.6 196.0h-6M601.4 194.7v-7.2M652.9 186.2h6M660.1 187.5v7.2M658.9 196.0h-6M651.7 194.7v-7.2M565.5 212.7h6M572.7 214.0v7.2M571.5 222.5h-6M564.3 221.2v-7.2M566.4 220.0h6M573.6 221.3v7.2M572.4 229.8h-6M565.2 228.5v-7.2M595.8 213.6h6M603.0 214.9v7.2M601.8 223.4h-6M594.6 222.1v-7.2M597.7 219.1h6M604.9 220.4v7.2M603.7 228.9h-6M596.5 227.6v-7.2M608.7 212.7h6M615.9 214.0v7.2M614.7 222.5h-6M607.5 221.2v-7.2M610.5 220.0h6M617.7 221.3v7.2M616.5 229.8h-6M609.3 228.5v-7.2M660.2 213.6h6M667.4 214.9v7.2M666.2 223.4h-6M659.0 222.1v-7.2M662.0 220.0h6M669.2 221.3v7.2M668.0 229.8h-6M660.8 228.5v-7.2M670.3 227.4h6M677.5 228.7v7.2M676.3 237.2h-6M669.1 235.9v-7.2M678.5 227.4h6M685.7 228.7v7.2M684.5 237.2h-6M677.3 235.9v-7.2M708.9 227.4h6M716.1 228.7v7.2M714.9 237.2h-6M707.7 235.9v-7.2M693.3 281.6h6M700.5 282.9v7.2M699.3 291.4h-6M692.1 290.1v-7.2M709.8 281.6h6M717.0 282.9v7.2M715.8 291.4h-6M708.6 290.1v-7.2M286.3 293.8h6M293.5 295.1v7.2M292.3 303.6h-6M285.1 302.3v-7.2M293.3 283.9h6M300.5 285.2v7.2M299.3 293.7h-6M292.1 292.4v-7.2M300.3 285.6h6M307.5 286.9v7.2M306.3 295.4h-6M299.1 294.1v-7.2M300.3 295.0h6M307.5 296.3v7.2M306.3 304.8h-6M299.1 303.5v-7.2M286.3 338.3h6M293.5 339.6v7.2M292.3 348.1h-6M285.1 346.8v-7.2M294.5 337.1h6M301.7 338.4v7.2M300.5 346.9h-6M293.3 345.6v-7.2M296.8 329.0h6M304.0 330.3v7.2M302.8 338.8h-6M295.6 337.5v-7.2M288.6 326.6h6M295.8 327.9v7.2M294.6 336.4h-6M287.4 335.1v-7.2M348.3 297.3h6M355.5 298.6v7.2M354.3 307.1h-6M347.1 305.8v-7.2M347.2 300.9h6M354.4 302.2v7.2M353.2 310.7h-6M346.0 309.4v-7.2M362.4 285.6h6M369.6 286.9v7.2M368.4 295.4h-6M361.2 294.1v-7.2M362.4 277.4h6M369.6 278.7v7.2M368.4 287.2h-6M361.2 285.9v-7.2M344.8 276.3h6M352.0 277.6v7.2M350.8 286.1h-6M343.6 284.8v-7.2M381.1 277.4h6M388.3 278.7v7.2M387.1 287.2h-6M379.9 285.9v-7.2M402.2 277.4h6M409.4 278.7v7.2M408.2 287.2h-6M401.0 285.9v-7.2M348.3 329.0h6M355.5 330.3v7.2M354.3 338.8h-6M347.1 337.5v-7.2M341.3 327.8h6M348.5 329.1v7.2M347.3 337.6h-6M340.1 336.3v-7.2M667.4 335.3h6M674.6 336.6v7.2M673.4 345.1h-6M666.2 343.8v-7.2M710.8 336.6h6M718.0 337.9v7.2M716.8 346.4h-6M709.6 345.1v-7.2M701.7 389.8h6M708.9 391.1v7.2M707.7 399.6h-6M700.5 398.3v-7.2M236.1 335.6h6M243.3 336.9v7.2M242.1 345.4h-6M234.9 344.1v-7.2M234.6 343.2h6M241.8 344.5v7.2M240.6 353.0h-6M233.4 351.7v-7.2M236.9 352.2h6M244.1 353.5v7.2M242.9 362.0h-6M235.7 360.7v-7.2M230.9 352.2h6M238.1 353.5v7.2M236.9 362.0h-6M229.7 360.7v-7.2M222.6 362.7h6M229.8 364.0v7.2M228.6 372.5h-6M221.4 371.2v-7.2M230.1 361.2h6M237.3 362.5v7.2M236.1 371.0h-6M228.9 369.7v-7.2M224.1 370.2h6M231.3 371.5v7.2M230.1 380.0h-6M222.9 378.7v-7.2M231.6 370.2h6M238.8 371.5v7.2M237.6 380.0h-6M230.4 378.7v-7.2M212.0 410.9h6M219.2 412.2v7.2M218.0 420.7h-6M210.8 419.4v-7.2M245.2 334.1h6M252.4 335.4v7.2M251.2 343.9h-6M244.0 342.6v-7.2M296.3 334.1h6M303.5 335.4v7.2M302.3 343.9h-6M295.1 342.6v-7.2M285.8 344.7h6M293.0 346.0v7.2M291.8 354.5h-6M284.6 353.2v-7.2M278.3 352.2h6M285.5 353.5v7.2M284.3 362.0h-6M277.1 360.7v-7.2M285.8 352.2h6M293.0 353.5v7.2M291.8 362.0h-6M284.6 360.7v-7.2M278.3 361.2h6M285.5 362.5v7.2M284.3 371.0h-6M277.1 369.7v-7.2M284.3 365.7h6M291.5 367.0v7.2M290.3 375.5h-6M283.1 374.2v-7.2M275.3 370.2h6M282.5 371.5v7.2M281.3 380.0h-6M274.1 378.7v-7.2M282.8 374.8h6M290.0 376.1v7.2M288.8 384.6h-6M281.6 383.3v-7.2M273.7 380.8h6M280.9 382.1v7.2M279.7 390.6h-6M272.5 389.3v-7.2M284.3 382.3h6M291.5 383.6v7.2M290.3 392.1h-6M283.1 390.8v-7.2M266.2 391.3h6M273.4 392.6v7.2M272.2 401.1h-6M265.0 399.8v-7.2M273.7 389.8h6M280.9 391.1v7.2M279.7 399.6h-6M272.5 398.3v-7.2M267.7 403.4h6M274.9 404.7v7.2M273.7 413.2h-6M266.5 411.9v-7.2M278.3 406.4h6M285.5 407.7v7.2M284.3 416.2h-6M277.1 414.9v-7.2M263.2 409.4h6M270.4 410.7v7.2M269.2 419.2h-6M262.0 417.9v-7.2M268.0 397.4h6M275.2 398.7v7.2M274.0 407.2h-6M266.8 405.9v-7.2M271.5 405.6h6M278.7 406.9v7.2M277.5 415.4h-6M270.3 414.1v-7.2M279.7 409.1h6M286.9 410.4v7.2M285.7 418.9h-6M278.5 417.6v-7.2M261.0 412.7h6M268.2 414.0v7.2M267.0 422.5h-6M259.8 421.2v-7.2M266.8 418.5h6M274.0 419.8v7.2M272.8 428.3h-6M265.6 427.0v-7.2M259.8 425.5h6M267.0 426.8v7.2M265.8 435.3h-6M258.6 434.0v-7.2M250.4 426.7h6M257.6 428.0v7.2M256.4 436.5h-6M249.2 435.2v-7.2M270.3 429.1h6M277.5 430.4v7.2M276.3 438.9h-6M269.1 437.6v-7.2M250.4 436.1h6M257.6 437.4v7.2M256.4 445.9h-6M249.2 444.6v-7.2M244.6 437.3h6M251.8 438.6v7.2M250.6 447.1h-6M243.4 445.8v-7.2M272.7 443.1h6M279.9 444.4v7.2M278.7 452.9h-6M271.5 451.6v-7.2M109.0 405.6h6M116.2 406.9v7.2M115.0 415.4h-6M107.8 414.1v-7.2M111.9 415.9h6M119.1 417.2v7.2M117.9 425.7h-6M110.7 424.4v-7.2M112.5 424.8h6M119.7 426.1v7.2M118.5 434.6h-6M111.3 433.3v-7.2M119.8 435.5h6M127.0 436.8v7.2M125.8 445.3h-6M118.6 444.0v-7.2M135.8 448.0h6M143.0 449.3v7.2M141.8 457.8h-6M134.6 456.5v-7.2M135.8 459.0h6M143.0 460.3v7.2M141.8 468.8h-6M134.6 467.5v-7.2M135.1 463.8h6M142.3 465.1v7.2M141.1 473.6h-6M133.9 472.3v-7.2M140.2 466.0h6M147.4 467.3v7.2M146.2 475.8h-6M139.0 474.5v-7.2M145.6 451.3h6M152.8 452.6v7.2M151.6 461.1h-6M144.4 459.8v-7.2M161.1 448.6h6M168.3 449.9v7.2M167.1 458.4h-6M159.9 457.1v-7.2M153.1 437.3h6M160.3 438.6v7.2M159.1 447.1h-6M151.9 445.8v-7.2M158.1 426.1h6M165.3 427.4v7.2M164.1 435.9h-6M156.9 434.6v-7.2M169.2 422.3h6M176.4 423.6v7.2M175.2 432.1h-6M168.0 430.8v-7.2M169.3 435.6h6M176.5 436.9v7.2M175.3 445.4h-6M168.1 444.1v-7.2M168.7 436.7h6M175.9 438.0v7.2M174.7 446.5h-6M167.5 445.2v-7.2M168.2 427.1h6M175.4 428.4v7.2M174.2 436.9h-6M167.0 435.6v-7.2M176.4 438.2h6M183.6 439.5v7.2M182.4 448.0h-6M175.2 446.7v-7.2M183.0 424.8h6M190.2 426.1v7.2M189.0 434.6h-6M181.8 433.3v-7.2M185.1 415.4h6M192.3 416.7v7.2M191.1 425.2h-6M183.9 423.9v-7.2M191.1 429.1h6M198.3 430.4v7.2M197.1 438.9h-6M189.9 437.6v-7.2M193.8 419.3h6M201.0 420.6v7.2M199.8 429.1h-6M192.6 427.8v-7.2M196.8 403.8h6M204.0 405.1v7.2M202.8 413.6h-6M195.6 412.3v-7.2M204.3 399.0h6M211.5 400.3v7.2M210.3 408.8h-6M203.1 407.5v-7.2M206.8 405.7h6M214.0 407.0v7.2M212.8 415.5h-6M205.6 414.2v-7.2M208.0 415.1h6M215.2 416.4v7.2M214.0 424.9h-6M206.8 423.6v-7.2M208.3 421.4h6M215.5 422.7v7.2M214.3 431.2h-6M207.1 429.9v-7.2M205.6 422.4h6M212.8 423.7v7.2M211.6 432.2h-6M204.4 430.9v-7.2M211.1 438.9h6M218.3 440.2v7.2M217.1 448.7h-6M209.9 447.4v-7.2M214.1 391.1h6M221.3 392.4v7.2M220.1 400.9h-6M212.9 399.6v-7.2M224.5 421.4h6M231.7 422.7v7.2M230.5 431.2h-6M223.3 429.9v-7.2M224.5 430.7h6M231.7 432.0v7.2M230.5 440.5h-6M223.3 439.2v-7.2M227.9 376.8h6M235.1 378.1v7.2M233.9 386.6h-6M226.7 385.3v-7.2M248.6 432.4h6M255.8 433.7v7.2M254.6 442.2h-6M247.4 440.9v-7.2M257.5 411.8h6M264.7 413.1v7.2M263.5 421.6h-6M256.3 420.3v-7.2M288.1 341.9h6M295.3 343.2v7.2M294.1 351.7h-6M286.9 350.4v-7.2M294.9 340.3h6M302.1 341.6v7.2M300.9 350.1h-6M293.7 348.8v-7.2M238.4 351.4h6M245.6 352.7v7.2M244.4 361.2h-6M237.2 359.9v-7.2M230.6 354.9h6M237.8 356.2v7.2M236.6 364.7h-6M229.4 363.4v-7.2M223.7 364.8h6M230.9 366.1v7.2M229.7 374.6h-6M222.5 373.3v-7.2M220.7 374.2h6M227.9 375.5v7.2M226.7 384.0h-6M219.5 382.7v-7.2M278.8 352.3h6M286.0 353.6v7.2M284.8 362.1h-6M277.6 360.8v-7.2M273.4 368.0h6M280.6 369.3v7.2M279.4 377.8h-6M272.2 376.5v-7.2M274.7 380.8h6M281.9 382.1v7.2M280.7 390.6h-6M273.5 389.3v-7.2M269.4 400.7h6M276.6 402.0v7.2M275.4 410.5h-6M268.2 409.2v-7.2M262.3 407.9h6M269.5 409.2v7.2M268.3 417.7h-6M261.1 416.4v-7.2M247.4 425.0h6M254.6 426.3v7.2M253.4 434.8h-6M246.2 433.5v-7.2M265.2 423.0h6M272.4 424.3v7.2M271.2 432.8h-6M264.0 431.5v-7.2"/>
</g></g>
<g clip-path="url(#cr)">
<g fill="#00f">
<circle cx="1002.4" cy="279.0" r="5.3"/>
<circle cx="923.0" cy="302.0" r="5.3"/>
<circle cx="918.0" cy="298.0" r="5.3"/>
<circle cx="930.0" cy="298.0" r="5.3"/>
<circle cx="955.0" cy="304.0" r="5.3"/>
<circle cx="948.0" cy="300.0" r="5.3"/>
<circle cx="962.0" cy="300.0" r="5.3"/>
<circle cx="991.0" cy="306.0" r="5.3"/>
<circle cx="1007.0" cy="300.0" r="5.3"/>
<circle cx="1025.0" cy="302.0" r="5.3"/>
<circle cx="1052.0" cy="302.0" r="5.3"/>
<circle cx="1082.0" cy="302.0" r="5.3"/>
<circle cx="1108.0" cy="302.0" r="5.3"/>
<circle cx="1134.0" cy="303.0" r="5.3"/>
<circle cx="1168.0" cy="300.0" r="5.3"/>
<circle cx="1184.0" cy="298.0" r="5.3"/>
<circle cx="1176.0" cy="314.0" r="5.3"/>
<circle cx="1186.0" cy="372.0" r="5.3"/>
<circle cx="903.0" cy="376.0" r="5.3"/>
<circle cx="913.0" cy="377.0" r="5.3"/>
<circle cx="925.0" cy="376.0" r="5.3"/>
<circle cx="937.0" cy="377.0" r="5.3"/>
<circle cx="949.0" cy="376.0" r="5.3"/>
<circle cx="961.0" cy="377.0" r="5.3"/>
<circle cx="973.0" cy="376.0" r="5.3"/>
<circle cx="985.0" cy="377.0" r="5.3"/>
<circle cx="997.0" cy="376.0" r="5.3"/>
<circle cx="1009.0" cy="377.0" r="5.3"/>
<circle cx="1021.0" cy="376.0" r="5.3"/>
<circle cx="1033.0" cy="377.0" r="5.3"/>
<circle cx="1045.0" cy="376.0" r="5.3"/>
<circle cx="1057.0" cy="377.0" r="5.3"/>
<circle cx="1069.0" cy="376.0" r="5.3"/>
<circle cx="1081.0" cy="377.0" r="5.3"/>
<circle cx="1093.0" cy="376.0" r="5.3"/>
<circle cx="1105.0" cy="377.0" r="5.3"/>
<circle cx="1117.0" cy="376.0" r="5.3"/>
<circle cx="1129.0" cy="377.0" r="5.3"/>
<circle cx="1141.0" cy="376.0" r="5.3"/>
<circle cx="1153.0" cy="377.0" r="5.3"/>
<circle cx="1165.0" cy="376.0" r="5.3"/>
<circle cx="1205.3" cy="306.6" r="5.3"/>
<circle cx="1239.8" cy="313.7" r="5.3"/>
<circle cx="1259.2" cy="303.6" r="5.3"/>
<circle cx="1259.2" cy="308.7" r="5.3"/>
<circle cx="1284.6" cy="300.5" r="5.3"/>
<circle cx="1275.5" cy="310.7" r="5.3"/>
<circle cx="1285.6" cy="316.8" r="5.3"/>
<circle cx="1313.1" cy="311.7" r="5.3"/>
<circle cx="1365.0" cy="300.5" r="5.3"/>
<circle cx="1377.2" cy="301.5" r="5.3"/>
<circle cx="1381.3" cy="305.6" r="5.3"/>
<circle cx="1421.9" cy="316.8" r="5.3"/>
<circle cx="1434.1" cy="314.8" r="5.3"/>
<circle cx="1456.5" cy="311.7" r="5.3"/>
<circle cx="1491.1" cy="306.6" r="5.3"/>
<circle cx="1192.0" cy="339.2" r="5.3"/>
<circle cx="1221.5" cy="348.3" r="5.3"/>
<circle cx="1251.0" cy="340.2" r="5.3"/>
<circle cx="1257.1" cy="345.3" r="5.3"/>
<circle cx="1240.9" cy="351.4" r="5.3"/>
<circle cx="1240.9" cy="359.5" r="5.3"/>
<circle cx="1253.1" cy="355.5" r="5.3"/>
<circle cx="1251.0" cy="359.5" r="5.3"/>
<circle cx="1273.4" cy="341.2" r="5.3"/>
<circle cx="1284.6" cy="340.2" r="5.3"/>
<circle cx="1283.6" cy="352.4" r="5.3"/>
<circle cx="1306.0" cy="338.2" r="5.3"/>
<circle cx="1313.1" cy="341.2" r="5.3"/>
<circle cx="1313.1" cy="353.4" r="5.3"/>
<circle cx="1326.3" cy="334.1" r="5.3"/>
<circle cx="1334.5" cy="341.2" r="5.3"/>
<circle cx="1350.7" cy="341.2" r="5.3"/>
<circle cx="1365.0" cy="340.2" r="5.3"/>
<circle cx="1350.7" cy="355.5" r="5.3"/>
<circle cx="1367.0" cy="326.0" r="5.3"/>
<circle cx="1384.3" cy="329.0" r="5.3"/>
<circle cx="1379.2" cy="345.3" r="5.3"/>
<circle cx="1393.5" cy="340.2" r="5.3"/>
<circle cx="1393.5" cy="355.5" r="5.3"/>
<circle cx="1394.5" cy="367.7" r="5.3"/>
<circle cx="1413.8" cy="350.4" r="5.3"/>
<circle cx="1422.0" cy="349.3" r="5.3"/>
<circle cx="1435.2" cy="344.3" r="5.3"/>
<circle cx="1444.3" cy="341.2" r="5.3"/>
<circle cx="1450.4" cy="353.4" r="5.3"/>
<circle cx="1453.5" cy="359.5" r="5.3"/>
<circle cx="1460.6" cy="327.0" r="5.3"/>
<circle cx="1474.8" cy="329.0" r="5.3"/>
<circle cx="1467.7" cy="340.2" r="5.3"/>
<circle cx="1484.0" cy="341.2" r="5.3"/>
<circle cx="1491.1" cy="349.3" r="5.3"/>
<circle cx="1491.1" cy="329.0" r="5.3"/>
<circle cx="1203.2" cy="363.6" r="5.3"/>
<circle cx="1213.4" cy="368.7" r="5.3"/>
<circle cx="1244.9" cy="373.8" r="5.3"/>
<circle cx="1269.3" cy="365.6" r="5.3"/>
<circle cx="1269.3" cy="373.8" r="5.3"/>
<circle cx="1326.3" cy="374.8" r="5.3"/>
<circle cx="1380.2" cy="373.8" r="5.3"/>
<circle cx="1442.3" cy="369.7" r="5.3"/>
<circle cx="1488.1" cy="375.8" r="5.3"/>
<circle cx="1245.0" cy="345.0" r="5.3"/>
<circle cx="1248.0" cy="365.0" r="5.3"/>
<circle cx="1256.0" cy="350.0" r="5.3"/>
<circle cx="1350.0" cy="348.0" r="5.3"/>
<circle cx="1355.0" cy="345.0" r="5.3"/>
<circle cx="1347.0" cy="350.0" r="5.3"/>
<circle cx="1396.0" cy="347.0" r="5.3"/>
<circle cx="1396.0" cy="362.0" r="5.3"/>
<circle cx="1290.0" cy="356.0" r="5.3"/>
<circle cx="1278.0" cy="356.0" r="5.3"/>
<circle cx="915.3" cy="351.0" r="5.3"/>
<circle cx="930.1" cy="343.2" r="5.3"/>
<circle cx="928.6" cy="351.0" r="5.3"/>
<circle cx="942.1" cy="356.6" r="5.3"/>
<circle cx="935.8" cy="367.4" r="5.3"/>
<circle cx="940.9" cy="367.7" r="5.3"/>
<circle cx="917.4" cy="361.8" r="5.3"/>
<circle cx="953.3" cy="370.0" r="5.3"/>
<circle cx="922.6" cy="340.1" r="5.3"/>
<circle cx="964.9" cy="369.3" r="5.3"/>
<circle cx="911.3" cy="336.2" r="5.3"/>
<circle cx="909.0" cy="366.4" r="5.3"/>
<circle cx="929.1" cy="364.3" r="5.3"/>
<circle cx="910.8" cy="344.5" r="5.3"/>
<circle cx="915.5" cy="358.8" r="5.3"/>
<circle cx="959.5" cy="373.4" r="5.3"/>
<circle cx="910.2" cy="349.8" r="5.3"/>
<circle cx="950.0" cy="349.6" r="5.3"/>
<circle cx="907.4" cy="329.4" r="5.3"/>
<circle cx="905.3" cy="352.1" r="5.3"/>
<circle cx="934.9" cy="353.0" r="5.3"/>
<circle cx="915.6" cy="366.9" r="5.3"/>
<circle cx="964.4" cy="371.3" r="5.3"/>
<circle cx="908.9" cy="327.2" r="5.3"/>
<circle cx="962.0" cy="347.6" r="5.3"/>
<circle cx="950.4" cy="340.7" r="5.3"/>
<circle cx="932.0" cy="350.3" r="5.3"/>
<circle cx="929.7" cy="354.6" r="5.3"/>
<circle cx="903.8" cy="359.8" r="5.3"/>
<circle cx="931.1" cy="361.7" r="5.3"/>
<circle cx="913.2" cy="350.1" r="5.3"/>
<circle cx="904.0" cy="369.6" r="5.3"/>
<circle cx="952.7" cy="359.9" r="5.3"/>
<circle cx="956.4" cy="356.1" r="5.3"/>
<circle cx="928.1" cy="354.6" r="5.3"/>
<circle cx="934.3" cy="374.1" r="5.3"/>
<circle cx="959.5" cy="362.0" r="5.3"/>
<circle cx="951.2" cy="365.5" r="5.3"/>
<circle cx="928.1" cy="369.7" r="5.3"/>
<circle cx="957.6" cy="359.4" r="5.3"/>
<circle cx="950.6" cy="363.0" r="5.3"/>
<circle cx="928.2" cy="360.9" r="5.3"/>
<circle cx="907.4" cy="341.4" r="5.3"/>
<circle cx="925.0" cy="356.6" r="5.3"/>
<circle cx="961.6" cy="358.0" r="5.3"/>
<circle cx="923.9" cy="357.6" r="5.3"/>
<circle cx="938.3" cy="351.2" r="5.3"/>
<circle cx="927.2" cy="375.0" r="5.3"/>
<circle cx="942.8" cy="359.8" r="5.3"/>
<circle cx="950.2" cy="374.0" r="5.3"/>
<circle cx="904.4" cy="355.4" r="5.3"/>
<circle cx="915.1" cy="343.2" r="5.3"/>
<circle cx="909.1" cy="336.8" r="5.3"/>
<circle cx="959.1" cy="352.1" r="5.3"/>
<circle cx="934.5" cy="373.3" r="5.3"/>
<circle cx="938.2" cy="374.8" r="5.3"/>
<circle cx="942.6" cy="365.3" r="5.3"/>
<circle cx="907.7" cy="354.5" r="5.3"/>
<circle cx="933.7" cy="355.2" r="5.3"/>
<circle cx="906.6" cy="372.2" r="5.3"/>
<circle cx="929.1" cy="350.9" r="5.3"/>
<circle cx="940.1" cy="342.6" r="5.3"/>
<circle cx="920.7" cy="357.4" r="5.3"/>
<circle cx="947.4" cy="339.1" r="5.3"/>
<circle cx="903.9" cy="336.5" r="5.3"/>
<circle cx="905.7" cy="332.0" r="5.3"/>
<circle cx="949.8" cy="343.9" r="5.3"/>
<circle cx="958.6" cy="362.2" r="5.3"/>
<circle cx="906.1" cy="374.4" r="5.3"/>
<circle cx="959.1" cy="345.9" r="5.3"/>
<circle cx="932.6" cy="373.6" r="5.3"/>
<circle cx="918.1" cy="350.7" r="5.3"/>
<circle cx="961.1" cy="360.9" r="5.3"/>
<circle cx="932.0" cy="373.9" r="5.3"/>
<circle cx="953.6" cy="354.8" r="5.3"/>
<circle cx="910.1" cy="355.8" r="5.3"/>
<circle cx="906.2" cy="350.9" r="5.3"/>
<circle cx="910.7" cy="346.6" r="5.3"/>
<circle cx="944.4" cy="347.2" r="5.3"/>
<circle cx="919.3" cy="353.7" r="5.3"/>
<circle cx="929.0" cy="363.7" r="5.3"/>
<circle cx="935.9" cy="374.9" r="5.3"/>
<circle cx="962.1" cy="361.4" r="5.3"/>
<circle cx="958.3" cy="364.0" r="5.3"/>
<circle cx="941.7" cy="342.3" r="5.3"/>
<circle cx="919.8" cy="358.9" r="5.3"/>
<circle cx="938.0" cy="354.2" r="5.3"/>
<circle cx="942.3" cy="362.4" r="5.3"/>
<circle cx="963.7" cy="370.7" r="5.3"/>
<circle cx="906.8" cy="337.8" r="5.3"/>
<circle cx="929.4" cy="355.8" r="5.3"/>
<circle cx="909.4" cy="351.6" r="5.3"/>
<circle cx="907.5" cy="328.4" r="5.3"/>
<circle cx="944.9" cy="352.1" r="5.3"/>
<circle cx="942.1" cy="343.0" r="5.3"/>
<circle cx="1061.2" cy="334.0" r="5.3"/>
<circle cx="1034.1" cy="361.7" r="5.3"/>
<circle cx="1133.5" cy="326.9" r="5.3"/>
<circle cx="989.1" cy="365.1" r="5.3"/>
<circle cx="1090.4" cy="363.0" r="5.3"/>
<circle cx="1007.8" cy="345.1" r="5.3"/>
<circle cx="1016.9" cy="365.1" r="5.3"/>
<circle cx="1039.2" cy="357.0" r="5.3"/>
<circle cx="1163.8" cy="339.9" r="5.3"/>
<circle cx="1075.3" cy="361.8" r="5.3"/>
<circle cx="1150.1" cy="345.2" r="5.3"/>
<circle cx="1039.2" cy="328.0" r="5.3"/>
<circle cx="1140.9" cy="327.1" r="5.3"/>
<circle cx="981.7" cy="352.3" r="5.3"/>
<circle cx="1062.5" cy="358.6" r="5.3"/>
<circle cx="1025.1" cy="363.3" r="5.3"/>
<circle cx="980.3" cy="334.1" r="5.3"/>
<circle cx="1098.1" cy="327.2" r="5.3"/>
<circle cx="1026.1" cy="360.7" r="5.3"/>
<circle cx="1104.5" cy="337.7" r="5.3"/>
<circle cx="993.7" cy="341.6" r="5.3"/>
<circle cx="1110.9" cy="342.1" r="5.3"/>
<circle cx="988.6" cy="359.9" r="5.3"/>
<circle cx="1079.4" cy="370.8" r="5.3"/>
<circle cx="1153.9" cy="370.5" r="5.3"/>
<circle cx="1053.0" cy="364.8" r="5.3"/>
<circle cx="1026.3" cy="339.5" r="5.3"/>
<circle cx="1045.3" cy="371.6" r="5.3"/>
<circle cx="1144.8" cy="335.9" r="5.3"/>
<circle cx="1037.7" cy="342.0" r="5.3"/>
<circle cx="1038.0" cy="343.6" r="5.3"/>
<circle cx="1042.9" cy="333.1" r="5.3"/>
<circle cx="1078.3" cy="364.4" r="5.3"/>
<circle cx="1073.7" cy="366.5" r="5.3"/>
<circle cx="1078.1" cy="332.2" r="5.3"/>
<circle cx="1117.5" cy="368.8" r="5.3"/>
<circle cx="1068.6" cy="351.3" r="5.3"/>
<circle cx="1079.1" cy="373.3" r="5.3"/>
<circle cx="1095.9" cy="364.8" r="5.3"/>
<circle cx="977.9" cy="351.4" r="5.3"/>
<circle cx="1123.4" cy="327.4" r="5.3"/>
<circle cx="981.4" cy="361.3" r="5.3"/>
<circle cx="1145.7" cy="327.4" r="5.3"/>
<circle cx="1092.5" cy="330.5" r="5.3"/>
<circle cx="1114.9" cy="356.7" r="5.3"/>
<circle cx="1014.3" cy="334.5" r="5.3"/>
<circle cx="1118.8" cy="350.1" r="5.3"/>
<circle cx="1118.7" cy="343.5" r="5.3"/>
<circle cx="1032.9" cy="373.4" r="5.3"/>
<circle cx="1100.1" cy="348.7" r="5.3"/>
<circle cx="1073.0" cy="360.5" r="5.3"/>
<circle cx="1107.3" cy="370.6" r="5.3"/>
<circle cx="1047.5" cy="366.0" r="5.3"/>
<circle cx="1099.0" cy="367.4" r="5.3"/>
<circle cx="1127.0" cy="366.4" r="5.3"/>
<circle cx="1143.6" cy="372.8" r="5.3"/>
<circle cx="1093.7" cy="350.2" r="5.3"/>
<circle cx="1107.7" cy="364.7" r="5.3"/>
<circle cx="1049.7" cy="344.9" r="5.3"/>
<circle cx="994.4" cy="361.5" r="5.3"/>
<circle cx="1164.2" cy="342.5" r="5.3"/>
<circle cx="998.7" cy="333.6" r="5.3"/>
<circle cx="1050.4" cy="338.2" r="5.3"/>
<circle cx="1159.9" cy="326.1" r="5.3"/>
<circle cx="1027.0" cy="329.0" r="5.3"/>
<circle cx="1095.2" cy="363.3" r="5.3"/>
<circle cx="1057.2" cy="353.4" r="5.3"/>
<circle cx="1147.8" cy="324.9" r="5.3"/>
<circle cx="986.8" cy="332.6" r="5.3"/>
<circle cx="1008.7" cy="335.2" r="5.3"/>
<circle cx="1109.2" cy="353.9" r="5.3"/>
<circle cx="1010.0" cy="332.6" r="5.3"/>
<circle cx="1021.5" cy="332.0" r="5.3"/>
<circle cx="1117.3" cy="339.2" r="5.3"/>
<circle cx="1075.2" cy="365.5" r="5.3"/>
<circle cx="1061.4" cy="336.5" r="5.3"/>
<circle cx="1143.4" cy="370.5" r="5.3"/>
<circle cx="1033.8" cy="351.5" r="5.3"/>
<circle cx="1157.4" cy="348.1" r="5.3"/>
<circle cx="1155.5" cy="364.7" r="5.3"/>
<circle cx="1042.4" cy="350.4" r="5.3"/>
<circle cx="1068.7" cy="337.3" r="5.3"/>
<circle cx="1164.0" cy="357.2" r="5.3"/>
<circle cx="1060.0" cy="342.3" r="5.3"/>
<circle cx="1125.2" cy="360.1" r="5.3"/>
<circle cx="1086.8" cy="331.2" r="5.3"/>
<circle cx="996.5" cy="339.7" r="5.3"/>
<circle cx="1017.1" cy="368.2" r="5.3"/>
<circle cx="1068.7" cy="356.1" r="5.3"/>
<circle cx="1164.6" cy="336.9" r="5.3"/>
<circle cx="1072.4" cy="330.8" r="5.3"/>
<circle cx="1130.1" cy="367.0" r="5.3"/>
<circle cx="1130.2" cy="327.3" r="5.3"/>
<circle cx="1019.3" cy="360.3" r="5.3"/>
<circle cx="984.5" cy="348.0" r="5.3"/>
<circle cx="1059.2" cy="372.7" r="5.3"/>
<circle cx="1082.9" cy="367.6" r="5.3"/>
<circle cx="1026.0" cy="364.0" r="5.3"/>
<circle cx="1048.8" cy="370.7" r="5.3"/>
<circle cx="983.3" cy="366.0" r="5.3"/>
<circle cx="1006.9" cy="351.3" r="5.3"/>
<circle cx="1070.7" cy="331.2" r="5.3"/>
<circle cx="1132.2" cy="339.2" r="5.3"/>
<circle cx="1026.4" cy="347.3" r="5.3"/>
<circle cx="1108.7" cy="341.7" r="5.3"/>
<circle cx="1103.1" cy="328.5" r="5.3"/>
<circle cx="1044.2" cy="347.0" r="5.3"/>
<circle cx="1159.3" cy="366.1" r="5.3"/>
<circle cx="1096.4" cy="323.6" r="5.3"/>
<circle cx="1040.8" cy="359.9" r="5.3"/>
<circle cx="1012.7" cy="352.3" r="5.3"/>
<circle cx="1164.3" cy="364.6" r="5.3"/>
<circle cx="1006.6" cy="355.0" r="5.3"/>
<circle cx="1023.4" cy="342.6" r="5.3"/>
<circle cx="1073.5" cy="338.5" r="5.3"/>
<circle cx="1032.8" cy="343.4" r="5.3"/>
<circle cx="1099.0" cy="336.3" r="5.3"/>
<circle cx="1005.2" cy="361.0" r="5.3"/>
<circle cx="1031.2" cy="372.1" r="5.3"/>
<circle cx="1078.1" cy="360.6" r="5.3"/>
<circle cx="1031.7" cy="366.0" r="5.3"/>
<circle cx="983.5" cy="330.3" r="5.3"/>
<circle cx="984.0" cy="358.2" r="5.3"/>
<circle cx="1107.4" cy="332.4" r="5.3"/>
<circle cx="1045.9" cy="366.5" r="5.3"/>
<circle cx="1084.1" cy="327.7" r="5.3"/>
<circle cx="1010.5" cy="331.2" r="5.3"/>
<circle cx="989.9" cy="344.2" r="5.3"/>
<circle cx="979.6" cy="370.9" r="5.3"/>
<circle cx="1050.8" cy="349.6" r="5.3"/>
<circle cx="1095.1" cy="362.9" r="5.3"/>
<circle cx="1130.0" cy="343.1" r="5.3"/>
<circle cx="1031.6" cy="344.4" r="5.3"/>
<circle cx="968.1" cy="343.8" r="5.3"/>
<circle cx="1105.7" cy="374.1" r="5.3"/>
<circle cx="1123.7" cy="357.3" r="5.3"/>
<circle cx="1087.3" cy="324.0" r="5.3"/>
<circle cx="1031.5" cy="340.8" r="5.3"/>
<circle cx="1095.8" cy="328.5" r="5.3"/>
<circle cx="1040.9" cy="349.5" r="5.3"/>
<circle cx="1123.5" cy="365.9" r="5.3"/>
<circle cx="1087.9" cy="331.2" r="5.3"/>
<circle cx="1119.1" cy="370.0" r="5.3"/>
<circle cx="1075.2" cy="341.3" r="5.3"/>
<circle cx="1065.6" cy="330.4" r="5.3"/>
<circle cx="1108.4" cy="374.3" r="5.3"/>
<circle cx="1068.7" cy="360.2" r="5.3"/>
<circle cx="1132.9" cy="333.3" r="5.3"/>
<circle cx="1154.9" cy="355.6" r="5.3"/>
<circle cx="1004.8" cy="327.3" r="5.3"/>
<circle cx="1014.2" cy="353.0" r="5.3"/>
<circle cx="1105.1" cy="340.1" r="5.3"/>
<circle cx="1151.7" cy="341.8" r="5.3"/>
<circle cx="1058.1" cy="329.4" r="5.3"/>
<circle cx="1160.7" cy="330.1" r="5.3"/>
<circle cx="1146.7" cy="351.3" r="5.3"/>
<circle cx="1077.7" cy="352.1" r="5.3"/>
<circle cx="1018.1" cy="370.3" r="5.3"/>
<circle cx="1164.4" cy="365.5" r="5.3"/>
<circle cx="1085.9" cy="329.4" r="5.3"/>
<circle cx="1130.8" cy="338.0" r="5.3"/>
<circle cx="1145.3" cy="335.5" r="5.3"/>
<circle cx="1080.3" cy="366.2" r="5.3"/>
<circle cx="1002.3" cy="351.5" r="5.3"/>
<circle cx="1001.2" cy="374.3" r="5.3"/>
<circle cx="1153.8" cy="357.2" r="5.3"/>
<circle cx="1026.8" cy="357.9" r="5.3"/>
<circle cx="1113.3" cy="342.8" r="5.3"/>
<circle cx="1084.0" cy="364.8" r="5.3"/>
<circle cx="968.3" cy="333.4" r="5.3"/>
<circle cx="1059.1" cy="330.4" r="5.3"/>
<circle cx="1042.7" cy="352.6" r="5.3"/>
<circle cx="999.9" cy="350.0" r="5.3"/>
<circle cx="1018.0" cy="352.5" r="5.3"/>
<circle cx="1031.8" cy="356.4" r="5.3"/>
<circle cx="972.6" cy="357.9" r="5.3"/>
<circle cx="994.1" cy="372.9" r="5.3"/>
<circle cx="1085.6" cy="347.4" r="5.3"/>
<circle cx="1047.7" cy="355.4" r="5.3"/>
<circle cx="1103.6" cy="362.4" r="5.3"/>
<circle cx="1116.1" cy="348.3" r="5.3"/>
<circle cx="1164.9" cy="366.6" r="5.3"/>
<circle cx="1136.9" cy="344.3" r="5.3"/>
<circle cx="1052.2" cy="352.4" r="5.3"/>
<circle cx="1147.0" cy="350.4" r="5.3"/>
<circle cx="1070.5" cy="345.5" r="5.3"/>
<circle cx="1146.8" cy="339.7" r="5.3"/>
<circle cx="976.0" cy="360.7" r="5.3"/>
<circle cx="1145.9" cy="361.1" r="5.3"/>
<circle cx="1085.1" cy="362.1" r="5.3"/>
<circle cx="1026.3" cy="353.9" r="5.3"/>
<circle cx="979.0" cy="329.5" r="5.3"/>
<circle cx="1054.8" cy="349.1" r="5.3"/>
<circle cx="1104.7" cy="350.4" r="5.3"/>
<circle cx="1013.1" cy="338.9" r="5.3"/>
<circle cx="1044.5" cy="335.3" r="5.3"/>
<circle cx="978.8" cy="370.4" r="5.3"/>
<circle cx="1159.3" cy="357.6" r="5.3"/>
<circle cx="1139.2" cy="344.9" r="5.3"/>
<circle cx="1126.9" cy="334.5" r="5.3"/>
<circle cx="1115.1" cy="352.5" r="5.3"/>
<circle cx="1146.6" cy="328.1" r="5.3"/>
<circle cx="1124.3" cy="329.4" r="5.3"/>
<circle cx="1073.1" cy="372.5" r="5.3"/>
<circle cx="965.1" cy="335.7" r="5.3"/>
<circle cx="1025.2" cy="339.9" r="5.3"/>
<circle cx="977.6" cy="369.5" r="5.3"/>
<circle cx="1128.9" cy="343.7" r="5.3"/>
<circle cx="1036.7" cy="353.4" r="5.3"/>
<circle cx="1145.6" cy="339.0" r="5.3"/>
<circle cx="1065.2" cy="371.6" r="5.3"/>
<circle cx="1161.4" cy="347.6" r="5.3"/>
<circle cx="1006.5" cy="338.4" r="5.3"/>
<circle cx="1150.5" cy="369.6" r="5.3"/>
<circle cx="1004.3" cy="366.6" r="5.3"/>
<circle cx="1036.2" cy="347.6" r="5.3"/>
<circle cx="999.5" cy="368.7" r="5.3"/>
<circle cx="1165.1" cy="333.5" r="5.3"/>
<circle cx="1092.1" cy="333.0" r="5.3"/>
<circle cx="1141.9" cy="325.6" r="5.3"/>
<circle cx="986.3" cy="360.7" r="5.3"/>
<circle cx="1027.9" cy="369.8" r="5.3"/>
<circle cx="1139.8" cy="360.1" r="5.3"/>
<circle cx="992.1" cy="359.2" r="5.3"/>
<circle cx="1153.5" cy="346.1" r="5.3"/>
<circle cx="980.9" cy="334.6" r="5.3"/>
<circle cx="1026.7" cy="359.9" r="5.3"/>
<circle cx="1004.5" cy="332.4" r="5.3"/>
<circle cx="1012.3" cy="357.6" r="5.3"/>
<circle cx="1123.9" cy="342.4" r="5.3"/>
<circle cx="1098.1" cy="369.0" r="5.3"/>
<circle cx="1083.6" cy="334.9" r="5.3"/>
<circle cx="1025.5" cy="371.2" r="5.3"/>
<circle cx="1099.1" cy="337.4" r="5.3"/>
<circle cx="1093.6" cy="327.7" r="5.3"/>
<circle cx="1162.6" cy="345.9" r="5.3"/>
<circle cx="1071.2" cy="350.6" r="5.3"/>
<circle cx="974.1" cy="354.2" r="5.3"/>
<circle cx="1022.2" cy="336.0" r="5.3"/>
<circle cx="1126.4" cy="327.5" r="5.3"/>
<circle cx="1022.3" cy="362.3" r="5.3"/>
<circle cx="1014.4" cy="337.5" r="5.3"/>
<circle cx="1075.2" cy="332.7" r="5.3"/>
<circle cx="1145.3" cy="374.4" r="5.3"/>
<circle cx="971.8" cy="347.0" r="5.3"/>
<circle cx="1115.9" cy="343.0" r="5.3"/>
<circle cx="1151.8" cy="349.0" r="5.3"/>
<circle cx="1001.2" cy="351.9" r="5.3"/>
<circle cx="1094.6" cy="341.7" r="5.3"/>
<circle cx="1097.3" cy="363.7" r="5.3"/>
<circle cx="1068.9" cy="349.3" r="5.3"/>
<circle cx="1134.9" cy="358.6" r="5.3"/>
<circle cx="1069.6" cy="372.5" r="5.3"/>
<circle cx="1000.0" cy="363.5" r="5.3"/>
<circle cx="998.2" cy="354.6" r="5.3"/>
<circle cx="1012.3" cy="345.9" r="5.3"/>
<circle cx="1120.4" cy="363.9" r="5.3"/>
<circle cx="1124.0" cy="335.3" r="5.3"/>
<circle cx="1063.3" cy="334.5" r="5.3"/>
<circle cx="1081.6" cy="348.9" r="5.3"/>
<circle cx="972.1" cy="354.0" r="5.3"/>
<circle cx="1108.7" cy="352.8" r="5.3"/>
<circle cx="1140.4" cy="332.4" r="5.3"/>
<circle cx="1064.7" cy="345.6" r="5.3"/>
<circle cx="1053.8" cy="336.7" r="5.3"/>
<circle cx="1125.5" cy="326.8" r="5.3"/>
<circle cx="1147.4" cy="352.6" r="5.3"/>
<circle cx="1074.2" cy="364.2" r="5.3"/>
<circle cx="1012.8" cy="330.6" r="5.3"/>
<circle cx="1028.2" cy="355.3" r="5.3"/>
<circle cx="1070.6" cy="336.8" r="5.3"/>
<circle cx="1083.3" cy="327.6" r="5.3"/>
<circle cx="1129.9" cy="331.9" r="5.3"/>
<circle cx="1016.2" cy="331.3" r="5.3"/>
<circle cx="1103.8" cy="366.2" r="5.3"/>
<circle cx="1123.1" cy="326.2" r="5.3"/>
<circle cx="1047.5" cy="341.9" r="5.3"/>
<circle cx="1008.5" cy="373.5" r="5.3"/>
<circle cx="973.5" cy="348.5" r="5.3"/>
<circle cx="1118.0" cy="374.3" r="5.3"/>
<circle cx="994.1" cy="346.7" r="5.3"/>
<circle cx="1114.7" cy="325.0" r="5.3"/>
<circle cx="1013.4" cy="369.3" r="5.3"/>
<circle cx="993.5" cy="343.4" r="5.3"/>
<circle cx="1024.9" cy="345.1" r="5.3"/>
<circle cx="1165.2" cy="362.7" r="5.3"/>
<circle cx="1112.5" cy="335.0" r="5.3"/>
<circle cx="1015.9" cy="351.7" r="5.3"/>
<circle cx="1013.6" cy="347.0" r="5.3"/>
<circle cx="1152.4" cy="341.9" r="5.3"/>
<circle cx="1032.7" cy="374.0" r="5.3"/>
<circle cx="1087.8" cy="325.1" r="5.3"/>
<circle cx="1046.0" cy="356.8" r="5.3"/>
<circle cx="976.8" cy="340.8" r="5.3"/>
<circle cx="1104.6" cy="368.0" r="5.3"/>
<circle cx="1083.7" cy="369.1" r="5.3"/>
<circle cx="1058.0" cy="343.4" r="5.3"/>
<circle cx="1134.5" cy="342.8" r="5.3"/>
<circle cx="1122.1" cy="334.2" r="5.3"/>
<circle cx="1034.8" cy="332.5" r="5.3"/>
<circle cx="1075.5" cy="331.5" r="5.3"/>
<circle cx="1005.9" cy="334.2" r="5.3"/>
<circle cx="1059.0" cy="339.0" r="5.3"/>
<circle cx="1054.9" cy="374.7" r="5.3"/>
<circle cx="1101.5" cy="367.9" r="5.3"/>
<circle cx="1006.1" cy="342.9" r="5.3"/>
<circle cx="979.6" cy="359.0" r="5.3"/>
<circle cx="1037.9" cy="337.3" r="5.3"/>
<circle cx="968.7" cy="332.5" r="5.3"/>
<circle cx="1017.7" cy="343.4" r="5.3"/>
<circle cx="1150.6" cy="360.2" r="5.3"/>
<circle cx="1019.0" cy="341.8" r="5.3"/>
<circle cx="995.9" cy="371.7" r="5.3"/>
<circle cx="1037.3" cy="362.8" r="5.3"/>
<circle cx="1110.4" cy="370.2" r="5.3"/>
<circle cx="969.1" cy="339.7" r="5.3"/>
<circle cx="1042.3" cy="327.3" r="5.3"/>
<circle cx="1142.4" cy="339.9" r="5.3"/>
<circle cx="1119.9" cy="350.0" r="5.3"/>
<circle cx="976.0" cy="343.5" r="5.3"/>
<circle cx="995.3" cy="354.0" r="5.3"/>
<circle cx="971.4" cy="339.2" r="5.3"/>
<circle cx="1050.2" cy="351.3" r="5.3"/>
<circle cx="992.3" cy="359.7" r="5.3"/>
<circle cx="1017.3" cy="360.7" r="5.3"/>
<circle cx="1098.9" cy="330.7" r="5.3"/>
<circle cx="1006.2" cy="337.6" r="5.3"/>
<circle cx="1108.3" cy="344.1" r="5.3"/>
<circle cx="1042.7" cy="368.0" r="5.3"/>
<circle cx="1010.4" cy="338.2" r="5.3"/>
<circle cx="1034.3" cy="334.2" r="5.3"/>
<circle cx="1091.7" cy="352.4" r="5.3"/>
<circle cx="1127.6" cy="373.7" r="5.3"/>
<circle cx="1024.9" cy="357.9" r="5.3"/>
<circle cx="1149.7" cy="334.2" r="5.3"/>
<circle cx="1103.5" cy="357.7" r="5.3"/>
<circle cx="1157.0" cy="368.2" r="5.3"/>
<circle cx="1012.2" cy="355.9" r="5.3"/>
<circle cx="983.1" cy="345.2" r="5.3"/>
<circle cx="1042.1" cy="340.1" r="5.3"/>
<circle cx="1064.9" cy="337.6" r="5.3"/>
<circle cx="996.9" cy="343.9" r="5.3"/>
<circle cx="1060.5" cy="331.7" r="5.3"/>
<circle cx="1098.7" cy="335.5" r="5.3"/>
<circle cx="983.7" cy="340.8" r="5.3"/>
<circle cx="1049.9" cy="330.8" r="5.3"/>
<circle cx="1082.1" cy="359.5" r="5.3"/>
<circle cx="1076.2" cy="359.4" r="5.3"/>
<circle cx="969.6" cy="343.4" r="5.3"/>
<circle cx="1064.6" cy="353.5" r="5.3"/>
<circle cx="1059.3" cy="339.9" r="5.3"/>
<circle cx="1034.8" cy="369.4" r="5.3"/>
<circle cx="1078.7" cy="336.6" r="5.3"/>
<circle cx="1099.3" cy="332.7" r="5.3"/>
<circle cx="1059.3" cy="355.0" r="5.3"/>
<circle cx="1156.9" cy="341.9" r="5.3"/>
<circle cx="1080.8" cy="372.0" r="5.3"/>
<circle cx="1120.1" cy="355.6" r="5.3"/>
<circle cx="1089.8" cy="344.4" r="5.3"/>
<circle cx="1048.5" cy="337.4" r="5.3"/>
<circle cx="1131.8" cy="368.7" r="5.3"/>
<circle cx="1041.8" cy="370.3" r="5.3"/>
<circle cx="972.7" cy="330.1" r="5.3"/>
<circle cx="1066.9" cy="339.0" r="5.3"/>
<circle cx="1037.4" cy="373.8" r="5.3"/>
<circle cx="995.1" cy="333.0" r="5.3"/>
<circle cx="1010.9" cy="358.4" r="5.3"/>
<circle cx="1074.3" cy="343.5" r="5.3"/>
<circle cx="1013.1" cy="348.7" r="5.3"/>
<circle cx="1095.7" cy="351.5" r="5.3"/>
<circle cx="1090.5" cy="352.2" r="5.3"/>
<circle cx="1132.1" cy="373.4" r="5.3"/>
<circle cx="1032.0" cy="341.0" r="5.3"/>
<circle cx="1143.2" cy="339.3" r="5.3"/>
<circle cx="1108.9" cy="359.2" r="5.3"/>
<circle cx="1103.0" cy="373.1" r="5.3"/>
<circle cx="1130.7" cy="331.3" r="5.3"/>
<circle cx="1089.9" cy="348.5" r="5.3"/>
<circle cx="1078.3" cy="342.2" r="5.3"/>
<circle cx="1022.4" cy="361.9" r="5.3"/>
<circle cx="1072.3" cy="335.3" r="5.3"/>
<circle cx="1015.1" cy="339.9" r="5.3"/>
<circle cx="1000.7" cy="349.7" r="5.3"/>
<circle cx="978.8" cy="328.3" r="5.3"/>
<circle cx="1106.7" cy="328.9" r="5.3"/>
<circle cx="1055.8" cy="363.1" r="5.3"/>
<circle cx="1061.6" cy="331.5" r="5.3"/>
<circle cx="1139.1" cy="368.2" r="5.3"/>
<circle cx="975.7" cy="336.2" r="5.3"/>
<circle cx="1067.0" cy="364.4" r="5.3"/>
<circle cx="1043.8" cy="360.2" r="5.3"/>
<circle cx="1015.6" cy="360.2" r="5.3"/>
<circle cx="1030.7" cy="340.4" r="5.3"/>
<circle cx="1117.6" cy="366.8" r="5.3"/>
<circle cx="1131.5" cy="352.5" r="5.3"/>
<circle cx="1049.5" cy="359.8" r="5.3"/>
<circle cx="1090.2" cy="366.2" r="5.3"/>
<circle cx="1126.0" cy="329.5" r="5.3"/>
<circle cx="1040.8" cy="357.8" r="5.3"/>
<circle cx="1011.4" cy="332.6" r="5.3"/>
<circle cx="930.2" cy="324.2" r="5.3"/>
<circle cx="919.7" cy="316.9" r="5.3"/>
<circle cx="923.5" cy="315.4" r="5.3"/>
<circle cx="923.2" cy="323.3" r="5.3"/>
<circle cx="927.3" cy="302.1" r="5.3"/>
<circle cx="918.6" cy="306.4" r="5.3"/>
<circle cx="927.5" cy="324.8" r="5.3"/>
<circle cx="919.6" cy="307.6" r="5.3"/>
<circle cx="924.3" cy="308.7" r="5.3"/>
<circle cx="922.0" cy="319.8" r="5.3"/>
<circle cx="928.9" cy="306.4" r="5.3"/>
<circle cx="923.1" cy="315.1" r="5.3"/>
<circle cx="966.4" cy="315.7" r="5.3"/>
<circle cx="955.9" cy="311.1" r="5.3"/>
<circle cx="960.3" cy="312.8" r="5.3"/>
<circle cx="949.1" cy="302.8" r="5.3"/>
<circle cx="948.0" cy="314.9" r="5.3"/>
<circle cx="952.0" cy="307.8" r="5.3"/>
<circle cx="948.4" cy="305.2" r="5.3"/>
<circle cx="945.5" cy="309.1" r="5.3"/>
<circle cx="949.0" cy="310.0" r="5.3"/>
<circle cx="952.7" cy="303.6" r="5.3"/>
<circle cx="958.5" cy="305.9" r="5.3"/>
<circle cx="952.3" cy="300.8" r="5.3"/>
<circle cx="946.8" cy="314.3" r="5.3"/>
<circle cx="953.7" cy="301.3" r="5.3"/>
<circle cx="950.1" cy="307.7" r="5.3"/>
<circle cx="972.9" cy="303.2" r="5.3"/>
<circle cx="988.8" cy="316.7" r="5.3"/>
<circle cx="990.7" cy="314.2" r="5.3"/>
<circle cx="991.7" cy="307.7" r="5.3"/>
<circle cx="993.5" cy="308.3" r="5.3"/>
<circle cx="985.9" cy="319.3" r="5.3"/>
<circle cx="1006.4" cy="314.7" r="5.3"/>
<circle cx="1033.5" cy="321.6" r="5.3"/>
<circle cx="1031.0" cy="311.4" r="5.3"/>
<circle cx="1033.3" cy="322.5" r="5.3"/>
<circle cx="1032.1" cy="326.6" r="5.3"/>
<circle cx="1009.4" cy="325.7" r="5.3"/>
<circle cx="1019.7" cy="319.3" r="5.3"/>
<circle cx="1014.5" cy="324.7" r="5.3"/>
<circle cx="1006.8" cy="316.0" r="5.3"/>
<circle cx="1013.7" cy="311.1" r="5.3"/>
<circle cx="1018.6" cy="318.1" r="5.3"/>
<circle cx="1033.6" cy="310.5" r="5.3"/>
<circle cx="1027.7" cy="310.2" r="5.3"/>
<circle cx="1015.5" cy="324.5" r="5.3"/>
<circle cx="1016.9" cy="303.4" r="5.3"/>
<circle cx="1017.4" cy="320.3" r="5.3"/>
<circle cx="1013.2" cy="320.3" r="5.3"/>
<circle cx="1024.6" cy="318.7" r="5.3"/>
<circle cx="1012.0" cy="303.8" r="5.3"/>
<circle cx="1010.9" cy="310.1" r="5.3"/>
<circle cx="1020.6" cy="301.2" r="5.3"/>
<circle cx="1023.1" cy="311.5" r="5.3"/>
<circle cx="1016.9" cy="315.0" r="5.3"/>
<circle cx="1038.4" cy="306.3" r="5.3"/>
<circle cx="1035.9" cy="309.3" r="5.3"/>
<circle cx="1054.3" cy="302.8" r="5.3"/>
<circle cx="1056.9" cy="308.3" r="5.3"/>
<circle cx="1056.6" cy="304.7" r="5.3"/>
<circle cx="1050.5" cy="313.0" r="5.3"/>
<circle cx="1048.0" cy="305.6" r="5.3"/>
<circle cx="1099.7" cy="317.1" r="5.3"/>
<circle cx="1088.3" cy="304.1" r="5.3"/>
<circle cx="1089.4" cy="317.8" r="5.3"/>
<circle cx="1082.7" cy="311.8" r="5.3"/>
<circle cx="1090.1" cy="311.9" r="5.3"/>
<circle cx="1084.8" cy="311.5" r="5.3"/>
<circle cx="1106.4" cy="315.6" r="5.3"/>
<circle cx="1098.1" cy="309.6" r="5.3"/>
<circle cx="1096.2" cy="302.9" r="5.3"/>
<circle cx="1104.8" cy="312.7" r="5.3"/>
<circle cx="1092.5" cy="312.3" r="5.3"/>
<circle cx="1091.4" cy="307.5" r="5.3"/>
<circle cx="1085.4" cy="311.2" r="5.3"/>
<circle cx="1096.3" cy="309.8" r="5.3"/>
<circle cx="1168.6" cy="335.2" r="5.3"/>
<circle cx="1176.9" cy="334.7" r="5.3"/>
<circle cx="1179.9" cy="339.1" r="5.3"/>
<circle cx="1171.0" cy="333.1" r="5.3"/>
<circle cx="1187.9" cy="336.6" r="5.3"/>
<circle cx="1133.0" cy="302.0" r="5.3"/>
<circle cx="1136.0" cy="306.0" r="5.3"/>
<circle cx="1134.0" cy="312.0" r="5.3"/>
<circle cx="1166.0" cy="300.0" r="5.3"/>
<circle cx="1172.0" cy="308.0" r="5.3"/>
<circle cx="1178.0" cy="314.0" r="5.3"/>
<circle cx="1184.0" cy="299.0" r="5.3"/>
<circle cx="1165.0" cy="335.0" r="5.3"/>
<circle cx="1165.0" cy="355.0" r="5.3"/>
<circle cx="1166.0" cy="365.0" r="5.3"/>
</g>
<g fill="#fff">
<circle cx="997" cy="360" r="3.5"/>
<circle cx="1003" cy="366" r="3"/>
<circle cx="920" cy="351" r="2.5"/>
<circle cx="940" cy="367" r="2.5"/>
<circle cx="1030" cy="355" r="2.5"/>
<circle cx="1080" cy="350" r="2.5"/>
<circle cx="1120" cy="345" r="2.5"/>
<circle cx="1138" cy="360" r="2.5"/>
<circle cx="1100" cy="362" r="2.5"/>
</g>
<g fill="none" stroke="#f00" stroke-width="1.8">
<path d="M964.2 46.0h6M971.4 47.3v7.2M970.2 55.8h-6M963.0 54.5v-7.2M989.1 46.0h6M996.3 47.3v7.2M995.1 55.8h-6M987.9 54.5v-7.2M928.1 60.4h6M935.3 61.7v7.2M934.1 70.2h-6M926.9 68.9v-7.2M1011.5 57.2h6M1018.7 58.5v7.2M1017.5 67.0h-6M1010.3 65.7v-7.2M1041.6 58.0h6M1048.8 59.3v7.2M1047.6 67.8h-6M1040.4 66.5v-7.2M1061.7 58.0h6M1068.9 59.3v7.2M1067.7 67.8h-6M1060.5 66.5v-7.2M1079.7 60.4h6M1086.9 61.7v7.2M1085.7 70.2h-6M1078.5 68.9v-7.2M1136.7 60.4h6M1143.9 61.7v7.2M1142.7 70.2h-6M1135.5 68.9v-7.2M1182.8 60.4h6M1190.0 61.7v7.2M1188.8 70.2h-6M1181.6 68.9v-7.2M1010.7 70.0h6M1017.9 71.3v7.2M1016.7 79.8h-6M1009.5 78.5v-7.2M1010.7 78.1h6M1017.9 79.4v7.2M1016.7 87.9h-6M1009.5 86.6v-7.2M1040.4 70.0h6M1047.6 71.3v7.2M1046.4 79.8h-6M1039.2 78.5v-7.2M1040.4 78.1h6M1047.6 79.4v7.2M1046.4 87.9h-6M1039.2 86.6v-7.2M1060.5 70.0h6M1067.7 71.3v7.2M1066.5 79.8h-6M1059.3 78.5v-7.2M1060.5 78.1h6M1067.7 79.4v7.2M1066.5 87.9h-6M1059.3 86.6v-7.2M943.3 75.2h6M950.5 76.5v7.2M949.3 85.0h-6M942.1 83.7v-7.2M1085.7 75.2h6M1092.9 76.5v7.2M1091.7 85.0h-6M1084.5 83.7v-7.2M1104.6 75.2h6M1111.8 76.5v7.2M1110.6 85.0h-6M1103.4 83.7v-7.2M1145.5 76.4h6M1152.7 77.7v7.2M1151.5 86.2h-6M1144.3 84.9v-7.2M946.3 84.5h6M953.5 85.8v7.2M952.3 94.3h-6M945.1 93.0v-7.2M951.4 88.6h6M958.6 89.9v7.2M957.4 98.4h-6M950.2 97.1v-7.2M1009.0 75.3h6M1016.2 76.6v7.2M1015.0 85.1h-6M1007.8 83.8v-7.2M922.4 91.2h6M929.6 92.5v7.2M928.4 101.0h-6M921.2 99.7v-7.2M929.4 91.2h6M936.6 92.5v7.2M935.4 101.0h-6M928.2 99.7v-7.2M900.2 97.6h6M907.4 98.9v7.2M906.2 107.4h-6M899.0 106.1v-7.2M910.7 98.2h6M917.9 99.5v7.2M916.7 108.0h-6M909.5 106.7v-7.2M920.1 97.6h6M927.3 98.9v7.2M926.1 107.4h-6M918.9 106.1v-7.2M927.1 100.6h6M934.3 101.9v7.2M933.1 110.4h-6M925.9 109.1v-7.2M935.3 101.2h6M942.5 102.5v7.2M941.3 111.0h-6M934.1 109.7v-7.2M943.5 85.9h6M950.7 87.2v7.2M949.5 95.7h-6M942.3 94.4v-7.2M948.1 90.6h6M955.3 91.9v7.2M954.1 100.4h-6M946.9 99.1v-7.2M944.6 96.5h6M951.8 97.8v7.2M950.6 106.3h-6M943.4 105.0v-7.2M896.7 105.2h6M903.9 106.5v7.2M902.7 115.0h-6M895.5 113.7v-7.2M903.7 105.8h6M910.9 107.1v7.2M909.7 115.6h-6M902.5 114.3v-7.2M913.1 104.7h6M920.3 106.0v7.2M919.1 114.5h-6M911.9 113.2v-7.2M922.4 108.8h6M929.6 110.1v7.2M928.4 118.6h-6M921.2 117.3v-7.2M938.8 112.8h6M946.0 114.1v7.2M944.8 122.6h-6M937.6 121.3v-7.2M947.0 109.3h6M954.2 110.6v7.2M953.0 119.1h-6M945.8 117.8v-7.2M929.4 110.5h6M936.6 111.8v7.2M935.4 120.3h-6M928.2 119.0v-7.2M902.5 114.0h6M909.7 115.3v7.2M908.5 123.8h-6M901.3 122.5v-7.2M913.1 115.2h6M920.3 116.5v7.2M919.1 125.0h-6M911.9 123.7v-7.2M896.7 124.5h6M903.9 125.8v7.2M902.7 134.3h-6M895.5 133.0v-7.2M904.9 124.5h6M912.1 125.8v7.2M910.9 134.3h-6M903.7 133.0v-7.2M914.2 123.4h6M921.4 124.7v7.2M920.2 133.2h-6M913.0 131.9v-7.2M922.4 126.9h6M929.6 128.2v7.2M928.4 136.7h-6M921.2 135.4v-7.2M929.4 125.7h6M936.6 127.0v7.2M935.4 135.5h-6M928.2 134.2v-7.2M936.4 126.9h6M943.6 128.2v7.2M942.4 136.7h-6M935.2 135.4v-7.2M943.5 125.7h6M950.7 127.0v7.2M949.5 135.5h-6M942.3 134.2v-7.2M949.3 124.5h6M956.5 125.8v7.2M955.3 134.3h-6M948.1 133.0v-7.2M920.1 118.7h6M927.3 120.0v7.2M926.1 128.5h-6M918.9 127.2v-7.2M934.1 119.9h6M941.3 121.2v7.2M940.1 129.7h-6M932.9 128.4v-7.2M896.7 132.7h6M903.9 134.0v7.2M902.7 142.5h-6M895.5 141.2v-7.2M903.7 135.1h6M910.9 136.4v7.2M909.7 144.9h-6M902.5 143.6v-7.2M911.9 132.7h6M919.1 134.0v7.2M917.9 142.5h-6M910.7 141.2v-7.2M925.9 131.6h6M933.1 132.9v7.2M931.9 141.4h-6M924.7 140.1v-7.2M938.8 132.7h6M946.0 134.0v7.2M944.8 142.5h-6M937.6 141.2v-7.2M907.2 142.1h6M914.4 143.4v7.2M913.2 151.9h-6M906.0 150.6v-7.2M917.7 143.3h6M924.9 144.6v7.2M923.7 153.1h-6M916.5 151.8v-7.2M927.1 139.7h6M934.3 141.0v7.2M933.1 149.5h-6M925.9 148.2v-7.2M941.1 139.7h6M948.3 141.0v7.2M947.1 149.5h-6M939.9 148.2v-7.2M948.1 140.9h6M955.3 142.2v7.2M954.1 150.7h-6M946.9 149.4v-7.2M899.0 140.9h6M906.2 142.2v7.2M905.0 150.7h-6M897.8 149.4v-7.2M925.4 91.1h6M932.6 92.4v7.2M931.4 100.9h-6M924.2 99.6v-7.2M949.8 85.0h6M957.0 86.3v7.2M955.8 94.8h-6M948.6 93.5v-7.2M955.5 87.9h6M962.7 89.2v7.2M961.5 97.7h-6M954.3 96.4v-7.2M962.6 95.0h6M969.8 96.3v7.2M968.6 104.8h-6M961.4 103.5v-7.2M968.3 97.8h6M975.5 99.1v7.2M974.3 107.6h-6M967.1 106.3v-7.2M951.3 97.8h6M958.5 99.1v7.2M957.3 107.6h-6M950.1 106.3v-7.2M958.4 103.5h6M965.6 104.8v7.2M964.4 113.3h-6M957.2 112.0v-7.2M966.9 103.5h6M974.1 104.8v7.2M972.9 113.3h-6M965.7 112.0v-7.2M979.7 107.8h6M986.9 109.1v7.2M985.7 117.6h-6M978.5 116.3v-7.2M974.0 112.1h6M981.2 113.4v7.2M980.0 121.9h-6M972.8 120.6v-7.2M961.2 113.5h6M968.4 114.8v7.2M967.2 123.3h-6M960.0 122.0v-7.2M951.3 112.1h6M958.5 113.4v7.2M957.3 121.9h-6M950.1 120.6v-7.2M955.5 120.6h6M962.7 121.9v7.2M961.5 130.4h-6M954.3 129.1v-7.2M966.9 120.6h6M974.1 121.9v7.2M972.9 130.4h-6M965.7 129.1v-7.2M978.3 123.4h6M985.5 124.7v7.2M984.3 133.2h-6M977.1 131.9v-7.2M986.8 122.0h6M994.0 123.3v7.2M992.8 131.8h-6M985.6 130.5v-7.2M998.2 119.2h6M1005.4 120.5v7.2M1004.2 129.0h-6M997.0 127.7v-7.2M1001.1 124.8h6M1008.3 126.1v7.2M1007.1 134.6h-6M999.9 133.3v-7.2M949.8 130.5h6M957.0 131.8v7.2M955.8 140.3h-6M948.6 139.0v-7.2M961.2 130.5h6M968.4 131.8v7.2M967.2 140.3h-6M960.0 139.0v-7.2M971.2 132.0h6M978.4 133.3v7.2M977.2 141.8h-6M970.0 140.5v-7.2M982.6 130.5h6M989.8 131.8v7.2M988.6 140.3h-6M981.4 139.0v-7.2M992.5 129.1h6M999.7 130.4v7.2M998.5 138.9h-6M991.3 137.6v-7.2M952.7 139.1h6M959.9 140.4v7.2M958.7 148.9h-6M951.5 147.6v-7.2M964.1 139.1h6M971.3 140.4v7.2M970.1 148.9h-6M962.9 147.6v-7.2M975.4 140.5h6M982.6 141.8v7.2M981.4 150.3h-6M974.2 149.0v-7.2M985.4 139.1h6M992.6 140.4v7.2M991.4 148.9h-6M984.2 147.6v-7.2M998.2 140.5h6M1005.4 141.8v7.2M1004.2 150.3h-6M997.0 149.0v-7.2M958.4 146.2h6M965.6 147.5v7.2M964.4 156.0h-6M957.2 154.7v-7.2M979.7 146.2h6M986.9 147.5v7.2M985.7 156.0h-6M978.5 154.7v-7.2M996.8 96.4h6M1004.0 97.7v7.2M1002.8 106.2h-6M995.6 104.9v-7.2M1001.1 93.5h6M1008.3 94.8v7.2M1007.1 103.3h-6M999.9 102.0v-7.2M957.2 93.7h6M964.4 95.0v7.2M963.2 103.5h-6M956.0 102.2v-7.2M965.6 97.0h6M972.8 98.3v7.2M971.6 106.8h-6M964.4 105.5v-7.2M962.2 103.7h6M969.4 105.0v7.2M968.2 113.5h-6M961.0 112.2v-7.2M908.3 155.8h6M915.5 157.1v7.2M914.3 165.6h-6M907.1 164.3v-7.2M942.0 154.7h6M949.2 156.0v7.2M948.0 164.5h-6M940.8 163.2v-7.2M977.9 153.6h6M985.1 154.9v7.2M983.9 163.4h-6M976.7 162.1v-7.2M1003.4 95.7h6M1010.6 97.0v7.2M1009.4 105.5h-6M1002.2 104.2v-7.2M997.3 101.9h6M1004.5 103.2v7.2M1003.3 111.7h-6M996.1 110.4v-7.2M1013.0 101.9h6M1020.2 103.2v7.2M1019.0 111.7h-6M1011.8 110.4v-7.2M1032.4 94.0h6M1039.6 95.3v7.2M1038.4 103.8h-6M1031.2 102.5v-7.2M1042.9 101.9h6M1050.1 103.2v7.2M1048.9 111.7h-6M1041.7 110.4v-7.2M1062.2 101.9h6M1069.4 103.2v7.2M1068.2 111.7h-6M1061.0 110.4v-7.2M1079.7 90.5h6M1086.9 91.8v7.2M1085.7 100.3h-6M1078.5 99.0v-7.2M1081.5 97.5h6M1088.7 98.8v7.2M1087.5 107.3h-6M1080.3 106.0v-7.2M1084.1 111.5h6M1091.3 112.8v7.2M1090.1 121.3h-6M1082.9 120.0v-7.2M1000.8 117.6h6M1008.0 118.9v7.2M1006.8 127.4h-6M999.6 126.1v-7.2M1008.7 124.7h6M1015.9 126.0v7.2M1014.7 134.5h-6M1007.5 133.2v-7.2M1029.7 117.6h6M1036.9 118.9v7.2M1035.7 127.4h-6M1028.5 126.1v-7.2M1029.7 124.7h6M1036.9 126.0v7.2M1035.7 134.5h-6M1028.5 133.2v-7.2M1038.5 124.7h6M1045.7 126.0v7.2M1044.5 134.5h-6M1037.3 133.2v-7.2M1056.0 124.7h6M1063.2 126.0v7.2M1062.0 134.5h-6M1054.8 133.2v-7.2M1081.5 123.8h6M1088.7 125.1v7.2M1087.5 133.6h-6M1080.3 132.3v-7.2M1086.7 127.3h6M1093.9 128.6v7.2M1092.7 137.1h-6M1085.5 135.8v-7.2M1013.9 138.7h6M1021.1 140.0v7.2M1019.9 148.5h-6M1012.7 147.2v-7.2M1030.6 140.5h6M1037.8 141.8v7.2M1036.6 150.3h-6M1029.4 149.0v-7.2M1042.9 138.7h6M1050.1 140.0v7.2M1048.9 148.5h-6M1041.7 147.2v-7.2M1057.8 139.6h6M1065.0 140.9v7.2M1063.8 149.4h-6M1056.6 148.1v-7.2M1063.9 138.7h6M1071.1 140.0v7.2M1069.9 148.5h-6M1062.7 147.2v-7.2M1079.7 138.7h6M1086.9 140.0v7.2M1085.7 148.5h-6M1078.5 147.2v-7.2M1086.7 139.6h6M1093.9 140.9v7.2M1092.7 149.4h-6M1085.5 148.1v-7.2M1009.5 152.7h6M1016.7 154.0v7.2M1015.5 162.5h-6M1008.3 161.2v-7.2M1037.6 152.7h6M1044.8 154.0v7.2M1043.6 162.5h-6M1036.4 161.2v-7.2M1056.9 152.7h6M1064.1 154.0v7.2M1062.9 162.5h-6M1055.7 161.2v-7.2M1081.5 152.7h6M1088.7 154.0v7.2M1087.5 162.5h-6M1080.3 161.2v-7.2M998.3 99.3h6M1005.5 100.6v7.2M1004.3 109.1h-6M997.1 107.8v-7.2M1007.4 154.7h6M1014.6 156.0v7.2M1013.4 164.5h-6M1006.2 163.2v-7.2M1005.5 160.5h6M1012.7 161.8v7.2M1011.5 170.3h-6M1004.3 169.0v-7.2M1013.2 160.5h6M1020.4 161.8v7.2M1019.2 170.3h-6M1012.0 169.0v-7.2M1020.8 159.5h6M1028.0 160.8v7.2M1026.8 169.3h-6M1019.6 168.0v-7.2M1015.1 166.3h6M1022.3 167.6v7.2M1021.1 176.1h-6M1013.9 174.8v-7.2M1034.3 159.5h6M1041.5 160.8v7.2M1040.3 169.3h-6M1033.1 168.0v-7.2M1043.0 160.5h6M1050.2 161.8v7.2M1049.0 170.3h-6M1041.8 169.0v-7.2M1045.8 166.3h6M1053.0 167.6v7.2M1051.8 176.1h-6M1044.6 174.8v-7.2M1055.5 160.5h6M1062.7 161.8v7.2M1061.5 170.3h-6M1054.3 169.0v-7.2M1064.1 160.5h6M1071.3 161.8v7.2M1070.1 170.3h-6M1062.9 169.0v-7.2M1065.1 166.3h6M1072.3 167.6v7.2M1071.1 176.1h-6M1063.9 174.8v-7.2M1076.6 159.5h6M1083.8 160.8v7.2M1082.6 169.3h-6M1075.4 168.0v-7.2M1084.3 153.8h6M1091.5 155.1v7.2M1090.3 163.6h-6M1083.1 162.3v-7.2M1072.8 147.0h6M1080.0 148.3v7.2M1078.8 156.8h-6M1071.6 155.5v-7.2M1055.5 146.1h6M1062.7 147.4v7.2M1061.5 155.9h-6M1054.3 154.6v-7.2M1030.5 146.1h6M1037.7 147.4v7.2M1036.5 155.9h-6M1029.3 154.6v-7.2M997.8 146.1h6M1005.0 147.4v7.2M1003.8 155.9h-6M996.6 154.6v-7.2M1006.4 185.5h6M1013.6 186.8v7.2M1012.4 195.3h-6M1005.2 194.0v-7.2M1014.1 184.5h6M1021.3 185.8v7.2M1020.1 194.3h-6M1012.9 193.0v-7.2M1020.8 181.6h6M1028.0 182.9v7.2M1026.8 191.4h-6M1019.6 190.1v-7.2M1020.8 189.3h6M1028.0 190.6v7.2M1026.8 199.1h-6M1019.6 197.8v-7.2M1005.5 200.9h6M1012.7 202.2v7.2M1011.5 210.7h-6M1004.3 209.4v-7.2M1010.3 206.6h6M1017.5 207.9v7.2M1016.3 216.4h-6M1009.1 215.1v-7.2M1022.8 210.5h6M1030.0 211.8v7.2M1028.8 220.3h-6M1021.6 219.0v-7.2M1017.0 214.3h6M1024.2 215.6v7.2M1023.0 224.1h-6M1015.8 222.8v-7.2M1018.9 222.0h6M1026.1 223.3v7.2M1024.9 231.8h-6M1017.7 230.5v-7.2M1019.9 232.6h6M1027.1 233.9v7.2M1025.9 242.4h-6M1018.7 241.1v-7.2M1014.1 245.1h6M1021.3 246.4v7.2M1020.1 254.9h-6M1012.9 253.6v-7.2M1014.1 248.9h6M1021.3 250.2v7.2M1020.1 258.7h-6M1012.9 257.4v-7.2M1036.2 185.5h6M1043.4 186.8v7.2M1042.2 195.3h-6M1035.0 194.0v-7.2M1047.8 185.5h6M1055.0 186.8v7.2M1053.8 195.3h-6M1046.6 194.0v-7.2M1053.5 181.6h6M1060.7 182.9v7.2M1059.5 191.4h-6M1052.3 190.1v-7.2M1055.5 186.4h6M1062.7 187.7v7.2M1061.5 196.2h-6M1054.3 194.9v-7.2M1032.4 198.9h6M1039.6 200.2v7.2M1038.4 208.7h-6M1031.2 207.4v-7.2M1038.2 202.8h6M1045.4 204.1v7.2M1044.2 212.6h-6M1037.0 211.3v-7.2M1054.5 198.9h6M1061.7 200.2v7.2M1060.5 208.7h-6M1053.3 207.4v-7.2M1038.2 208.6h6M1045.4 209.9v7.2M1044.2 218.4h-6M1037.0 217.1v-7.2M1047.8 212.4h6M1055.0 213.7v7.2M1053.8 222.2h-6M1046.6 220.9v-7.2M1055.5 208.6h6M1062.7 209.9v7.2M1061.5 218.4h-6M1054.3 217.1v-7.2M1048.7 220.1h6M1055.9 221.4v7.2M1054.7 229.9h-6M1047.5 228.6v-7.2M1049.7 232.6h6M1056.9 233.9v7.2M1055.7 242.4h-6M1048.5 241.1v-7.2M1044.9 245.1h6M1052.1 246.4v7.2M1050.9 254.9h-6M1043.7 253.6v-7.2M1043.9 248.9h6M1051.1 250.2v7.2M1049.9 258.7h-6M1042.7 257.4v-7.2M1067.0 185.5h6M1074.2 186.8v7.2M1073.0 195.3h-6M1065.8 194.0v-7.2M1074.7 181.6h6M1081.9 182.9v7.2M1080.7 191.4h-6M1073.5 190.1v-7.2M1076.6 196.1h6M1083.8 197.4v7.2M1082.6 205.9h-6M1075.4 204.6v-7.2M1068.9 210.5h6M1076.1 211.8v7.2M1074.9 220.3h-6M1067.7 219.0v-7.2M1074.7 210.5h6M1081.9 211.8v7.2M1080.7 220.3h-6M1073.5 219.0v-7.2M1067.0 222.0h6M1074.2 223.3v7.2M1073.0 231.8h-6M1065.8 230.5v-7.2M1072.8 232.6h6M1080.0 233.9v7.2M1078.8 242.4h-6M1071.6 241.1v-7.2M1065.1 245.1h6M1072.3 246.4v7.2M1071.1 254.9h-6M1063.9 253.6v-7.2M1065.1 248.9h6M1072.3 250.2v7.2M1071.1 258.7h-6M1063.9 257.4v-7.2M1090.3 87.2h6M1097.5 88.5v7.2M1096.3 97.0h-6M1089.1 95.7v-7.2M1098.9 93.9h6M1106.1 95.2v7.2M1104.9 103.7h-6M1097.7 102.4v-7.2M1110.5 88.2h6M1117.7 89.5v7.2M1116.5 98.0h-6M1109.3 96.7v-7.2M1118.2 93.9h6M1125.4 95.2v7.2M1124.2 103.7h-6M1117.0 102.4v-7.2M1079.7 99.7h6M1086.9 101.0v7.2M1085.7 109.5h-6M1078.5 108.2v-7.2M1090.3 98.8h6M1097.5 100.1v7.2M1096.3 108.6h-6M1089.1 107.3v-7.2M1108.5 98.8h6M1115.7 100.1v7.2M1114.5 108.6h-6M1107.3 107.3v-7.2M1093.2 110.3h6M1100.4 111.6v7.2M1099.2 120.1h-6M1092.0 118.8v-7.2M1100.8 113.2h6M1108.0 114.5v7.2M1106.8 123.0h-6M1099.6 121.7v-7.2M1115.3 109.3h6M1122.5 110.6v7.2M1121.3 119.1h-6M1114.1 117.8v-7.2M1122.0 110.3h6M1129.2 111.6v7.2M1128.0 120.1h-6M1120.8 118.8v-7.2M1080.7 128.6h6M1087.9 129.9v7.2M1086.7 138.4h-6M1079.5 137.1v-7.2M1090.3 126.6h6M1097.5 127.9v7.2M1096.3 136.4h-6M1089.1 135.1v-7.2M1098.9 124.7h6M1106.1 126.0v7.2M1104.9 134.5h-6M1097.7 133.2v-7.2M1106.6 128.6h6M1113.8 129.9v7.2M1112.6 138.4h-6M1105.4 137.1v-7.2M1115.3 120.9h6M1122.5 122.2v7.2M1121.3 130.7h-6M1114.1 129.4v-7.2M1093.2 139.1h6M1100.4 140.4v7.2M1099.2 148.9h-6M1092.0 147.6v-7.2M1102.8 140.1h6M1110.0 141.4v7.2M1108.8 149.9h-6M1101.6 148.6v-7.2M1118.2 137.2h6M1125.4 138.5v7.2M1124.2 147.0h-6M1117.0 145.7v-7.2M1086.4 118.9h6M1093.6 120.2v7.2M1092.4 128.7h-6M1085.2 127.4v-7.2M1108.5 118.9h6M1115.7 120.2v7.2M1114.5 128.7h-6M1107.3 127.4v-7.2M1097.0 105.1h6M1104.2 106.4v7.2M1103.0 114.9h-6M1095.8 113.6v-7.2M1112.0 132.1h6M1119.2 133.4v7.2M1118.0 141.9h-6M1110.8 140.6v-7.2M1087.0 133.1h6M1094.2 134.4v7.2M1093.0 142.9h-6M1085.8 141.6v-7.2M1095.0 119.1h6M1102.2 120.4v7.2M1101.0 128.9h-6M1093.8 127.6v-7.2M1105.0 106.1h6M1112.2 107.4v7.2M1111.0 115.9h-6M1103.8 114.6v-7.2M1084.0 105.1h6M1091.2 106.4v7.2M1090.0 114.9h-6M1082.8 113.6v-7.2M1117.0 101.1h6M1124.2 102.4v7.2M1123.0 110.9h-6M1115.8 109.6v-7.2M1101.0 83.1h6M1108.2 84.4v7.2M1107.0 92.9h-6M1099.8 91.6v-7.2M1137.4 91.1h6M1144.6 92.4v7.2M1143.4 100.9h-6M1136.2 99.6v-7.2M1151.8 88.2h6M1159.0 89.5v7.2M1157.8 98.0h-6M1150.6 96.7v-7.2M1136.4 98.8h6M1143.6 100.1v7.2M1142.4 108.6h-6M1135.2 107.3v-7.2M1150.8 96.8h6M1158.0 98.1v7.2M1156.8 106.6h-6M1149.6 105.3v-7.2M1156.6 107.4h6M1163.8 108.7v7.2M1162.6 117.2h-6M1155.4 115.9v-7.2M1143.2 112.2h6M1150.4 113.5v7.2M1149.2 122.0h-6M1142.0 120.7v-7.2M1152.8 115.1h6M1160.0 116.4v7.2M1158.8 124.9h-6M1151.6 123.6v-7.2M1158.5 120.9h6M1165.7 122.2v7.2M1164.5 130.7h-6M1157.3 129.4v-7.2M1135.5 128.6h6M1142.7 129.9v7.2M1141.5 138.4h-6M1134.3 137.1v-7.2M1145.1 126.6h6M1152.3 127.9v7.2M1151.1 136.4h-6M1143.9 135.1v-7.2M1153.7 124.7h6M1160.9 126.0v7.2M1159.7 134.5h-6M1152.5 133.2v-7.2M1137.4 141.1h6M1144.6 142.4v7.2M1143.4 150.9h-6M1136.2 149.6v-7.2M1146.0 140.1h6M1153.2 141.4v7.2M1152.0 149.9h-6M1144.8 148.6v-7.2M1158.5 138.2h6M1165.7 139.5v7.2M1164.5 148.0h-6M1157.3 146.7v-7.2M1142.0 103.1h6M1149.2 104.4v7.2M1148.0 112.9h-6M1140.8 111.6v-7.2M1147.0 119.1h6M1154.2 120.4v7.2M1153.0 128.9h-6M1145.8 127.6v-7.2M1140.0 133.1h6M1147.2 134.4v7.2M1146.0 142.9h-6M1138.8 141.6v-7.2M1185.5 90.1h6M1192.7 91.4v7.2M1191.5 99.9h-6M1184.3 98.6v-7.2M1179.7 97.8h6M1186.9 99.1v7.2M1185.7 107.6h-6M1178.5 106.3v-7.2M1199.9 101.6h6M1207.1 102.9v7.2M1205.9 111.4h-6M1198.7 110.1v-7.2M1176.8 129.5h6M1184.0 130.8v7.2M1182.8 139.3h-6M1175.6 138.0v-7.2M1181.6 141.1h6M1188.8 142.4v7.2M1187.6 150.9h-6M1180.4 149.6v-7.2M1200.8 127.6h6M1208.0 128.9v7.2M1206.8 137.4h-6M1199.6 136.1v-7.2M1079.7 157.4h6M1086.9 158.7v7.2M1085.7 167.2h-6M1078.5 165.9v-7.2M1102.8 153.6h6M1110.0 154.9v7.2M1108.8 163.4h-6M1101.6 162.1v-7.2M1123.0 163.2h6M1130.2 164.5v7.2M1129.0 173.0h-6M1121.8 171.7v-7.2M1131.6 159.3h6M1138.8 160.6v7.2M1137.6 169.1h-6M1130.4 167.8v-7.2M1144.1 153.6h6M1151.3 154.9v7.2M1150.1 163.4h-6M1142.9 162.1v-7.2M1161.4 160.3h6M1168.6 161.6v7.2M1167.4 170.1h-6M1160.2 168.8v-7.2M1171.0 159.3h6M1178.2 160.6v7.2M1177.0 169.1h-6M1169.8 167.8v-7.2M1075.8 162.2h6M1083.0 163.5v7.2M1081.8 172.0h-6M1074.6 170.7v-7.2M1309.9 60.2h6M1317.1 61.5v7.2M1315.9 70.0h-6M1308.7 68.7v-7.2M1242.2 75.2h6M1249.4 76.5v7.2M1248.2 85.0h-6M1241.0 83.7v-7.2M1218.4 114.1h6M1225.6 115.4v7.2M1224.4 123.9h-6M1217.2 122.6v-7.2M1247.2 86.5h6M1254.4 87.8v7.2M1253.2 96.3h-6M1246.0 95.0v-7.2M1257.2 87.8h6M1264.4 89.1v7.2M1263.2 97.6h-6M1256.0 96.3v-7.2M1256.0 95.3h6M1263.2 96.6v7.2M1262.0 105.1h-6M1254.8 103.8v-7.2M1252.2 101.6h6M1259.4 102.9v7.2M1258.2 111.4h-6M1251.0 110.1v-7.2M1282.3 99.1h6M1289.5 100.4v7.2M1288.3 108.9h-6M1281.1 107.6v-7.2M1309.9 91.5h6M1317.1 92.8v7.2M1315.9 101.3h-6M1308.7 100.0v-7.2M1309.9 101.6h6M1317.1 102.9v7.2M1315.9 111.4h-6M1308.7 110.1v-7.2M1323.7 114.1h6M1330.9 115.4v7.2M1329.7 123.9h-6M1322.5 122.6v-7.2M1269.8 107.8h6M1277.0 109.1v7.2M1275.8 117.6h-6M1268.6 116.3v-7.2M1267.3 115.4h6M1274.5 116.7v7.2M1273.3 125.2h-6M1266.1 123.9v-7.2M1273.5 120.4h6M1280.7 121.7v7.2M1279.5 130.2h-6M1272.3 128.9v-7.2M1322.4 124.1h6M1329.6 125.4v7.2M1328.4 133.9h-6M1321.2 132.6v-7.2M1322.4 129.1h6M1329.6 130.4v7.2M1328.4 138.9h-6M1321.2 137.6v-7.2M1209.6 124.1h6M1216.8 125.4v7.2M1215.6 133.9h-6M1208.4 132.6v-7.2M1242.2 126.6h6M1249.4 127.9v7.2M1248.2 136.4h-6M1241.0 135.1v-7.2M1252.2 126.6h6M1259.4 127.9v7.2M1258.2 136.4h-6M1251.0 135.1v-7.2M1257.2 125.4h6M1264.4 126.7v7.2M1263.2 135.2h-6M1256.0 133.9v-7.2M1264.8 124.1h6M1272.0 125.4v7.2M1270.8 133.9h-6M1263.6 132.6v-7.2M1282.3 130.4h6M1289.5 131.7v7.2M1288.3 140.2h-6M1281.1 138.9v-7.2M1268.5 137.9h6M1275.7 139.2v7.2M1274.5 147.7h-6M1267.3 146.4v-7.2M1279.8 137.9h6M1287.0 139.2v7.2M1285.8 147.7h-6M1278.6 146.4v-7.2M1237.2 140.4h6M1244.4 141.7v7.2M1243.2 150.2h-6M1236.0 148.9v-7.2M1302.4 141.7h6M1309.6 143.0v7.2M1308.4 151.5h-6M1301.2 150.2v-7.2M1331.2 140.4h6M1338.4 141.7v7.2M1337.2 150.2h-6M1330.0 148.9v-7.2M1238.4 154.2h6M1245.6 155.5v7.2M1244.4 164.0h-6M1237.2 162.7v-7.2M1282.3 159.2h6M1289.5 160.5v7.2M1288.3 169.0h-6M1281.1 167.7v-7.2M1341.2 153.0h6M1348.4 154.3v7.2M1347.2 162.8h-6M1340.0 161.5v-7.2M1347.0 75.2h6M1354.2 76.5v7.2M1353.0 85.0h-6M1345.8 83.7v-7.2M1350.8 86.5h6M1358.0 87.8v7.2M1356.8 96.3h-6M1349.6 95.0v-7.2M1365.9 86.5h6M1373.1 87.8v7.2M1371.9 96.3h-6M1364.7 95.0v-7.2M1362.1 96.5h6M1369.3 97.8v7.2M1368.1 106.3h-6M1360.9 105.0v-7.2M1360.8 101.6h6M1368.0 102.9v7.2M1366.8 111.4h-6M1359.6 110.1v-7.2M1390.9 75.2h6M1398.1 76.5v7.2M1396.9 85.0h-6M1389.7 83.7v-7.2M1390.9 86.5h6M1398.1 87.8v7.2M1396.9 96.3h-6M1389.7 95.0v-7.2M1432.3 86.5h6M1439.5 87.8v7.2M1438.3 96.3h-6M1431.1 95.0v-7.2M1418.5 96.5h6M1425.7 97.8v7.2M1424.5 106.3h-6M1417.3 105.0v-7.2M1418.5 100.3h6M1425.7 101.6v7.2M1424.5 110.1h-6M1417.3 108.8v-7.2M1378.4 112.8h6M1385.6 114.1v7.2M1384.4 122.6h-6M1377.2 121.3v-7.2M1374.6 115.4h6M1381.8 116.7v7.2M1380.6 125.2h-6M1373.4 123.9v-7.2M1350.8 126.6h6M1358.0 127.9v7.2M1356.8 136.4h-6M1349.6 135.1v-7.2M1357.1 126.6h6M1364.3 127.9v7.2M1363.1 136.4h-6M1355.9 135.1v-7.2M1363.3 124.1h6M1370.5 125.4v7.2M1369.3 133.9h-6M1362.1 132.6v-7.2M1373.4 124.1h6M1380.6 125.4v7.2M1379.4 133.9h-6M1372.2 132.6v-7.2M1390.9 126.6h6M1398.1 127.9v7.2M1396.9 136.4h-6M1389.7 135.1v-7.2M1411.0 127.9h6M1418.2 129.2v7.2M1417.0 137.7h-6M1409.8 136.4v-7.2M1418.5 124.1h6M1425.7 125.4v7.2M1424.5 133.9h-6M1417.3 132.6v-7.2M1432.3 125.4h6M1439.5 126.7v7.2M1438.3 135.2h-6M1431.1 133.9v-7.2M1439.8 115.4h6M1447.0 116.7v7.2M1445.8 125.2h-6M1438.6 123.9v-7.2M1464.9 117.9h6M1472.1 119.2v7.2M1470.9 127.7h-6M1463.7 126.4v-7.2M1488.7 114.1h6M1495.9 115.4v7.2M1494.7 123.9h-6M1487.5 122.6v-7.2M1483.7 131.7h6M1490.9 133.0v7.2M1489.7 141.5h-6M1482.5 140.2v-7.2M1345.8 140.4h6M1353.0 141.7v7.2M1351.8 150.2h-6M1344.6 148.9v-7.2M1380.9 140.4h6M1388.1 141.7v7.2M1386.9 150.2h-6M1379.7 148.9v-7.2M1389.7 140.4h6M1396.9 141.7v7.2M1395.7 150.2h-6M1388.5 148.9v-7.2M1345.8 154.2h6M1353.0 155.5v7.2M1351.8 164.0h-6M1344.6 162.7v-7.2M1377.1 154.2h6M1384.3 155.5v7.2M1383.1 164.0h-6M1375.9 162.7v-7.2M1387.2 154.2h6M1394.4 155.5v7.2M1393.2 164.0h-6M1386.0 162.7v-7.2M1441.1 154.2h6M1448.3 155.5v7.2M1447.1 164.0h-6M1439.9 162.7v-7.2M1448.6 156.7h6M1455.8 158.0v7.2M1454.6 166.5h-6M1447.4 165.2v-7.2M1457.4 154.2h6M1464.6 155.5v7.2M1463.4 164.0h-6M1456.2 162.7v-7.2M1471.2 169.3h6M1478.4 170.6v7.2M1477.2 179.1h-6M1470.0 177.8v-7.2M1489.0 42.6h6M1496.2 43.9v7.2M1495.0 52.4h-6M1487.8 51.1v-7.2M1131.0 181.5h6M1138.2 182.8v7.2M1137.0 191.3h-6M1129.8 190.0v-7.2M1124.7 187.8h6M1131.9 189.1v7.2M1130.7 197.6h-6M1123.5 196.3v-7.2M1133.5 195.4h6M1140.7 196.7v7.2M1139.5 205.2h-6M1132.3 203.9v-7.2M1131.0 210.7h6M1138.2 212.0v7.2M1137.0 220.5h-6M1129.8 219.2v-7.2M1124.7 217.0h6M1131.9 218.3v7.2M1130.7 226.8h-6M1123.5 225.5v-7.2M1126.0 222.1h6M1133.2 223.4v7.2M1132.0 231.9h-6M1124.8 230.6v-7.2M1129.7 232.2h6M1136.9 233.5v7.2M1135.7 242.0h-6M1128.5 240.7v-7.2M1123.4 246.1h6M1130.6 247.4v7.2M1129.4 255.9h-6M1122.2 254.6v-7.2M1165.2 182.8h6M1172.4 184.1v7.2M1171.2 192.6h-6M1164.0 191.3v-7.2M1160.2 186.6h6M1167.4 187.9v7.2M1166.2 196.4h-6M1159.0 195.1v-7.2M1172.8 195.4h6M1180.0 196.7v7.2M1178.8 205.2h-6M1171.6 203.9v-7.2M1166.5 210.7h6M1173.7 212.0v7.2M1172.5 220.5h-6M1165.3 219.2v-7.2M1160.2 217.0h6M1167.4 218.3v7.2M1166.2 226.8h-6M1159.0 225.5v-7.2M1158.9 222.1h6M1166.1 223.4v7.2M1164.9 231.9h-6M1157.7 230.6v-7.2M1164.0 232.2h6M1171.2 233.5v7.2M1170.0 242.0h-6M1162.8 240.7v-7.2M1281.8 195.4h6M1289.0 196.7v7.2M1287.8 205.2h-6M1280.6 203.9v-7.2M1279.3 210.7h6M1286.5 212.0v7.2M1285.3 220.5h-6M1278.1 219.2v-7.2M1450.4 269.0h6M1457.6 270.3v7.2M1456.4 278.8h-6M1449.2 277.5v-7.2M935.6 130.5h6M942.8 131.8v7.2M941.6 140.3h-6M934.4 139.0v-7.2M956.2 113.1h6M963.4 114.4v7.2M962.2 122.9h-6M955.0 121.6v-7.2M958.3 115.5h6M965.5 116.8v7.2M964.3 125.3h-6M957.1 124.0v-7.2M918.6 128.3h6M925.8 129.6v7.2M924.6 138.1h-6M917.4 136.8v-7.2M947.2 123.4h6M954.4 124.7v7.2M953.2 133.2h-6M946.0 131.9v-7.2M895.2 104.9h6M902.4 106.2v7.2M901.2 114.7h-6M894.0 113.4v-7.2M966.6 99.1h6M973.8 100.4v7.2M972.6 108.9h-6M965.4 107.6v-7.2M912.1 140.5h6M919.3 141.8v7.2M918.1 150.3h-6M910.9 149.0v-7.2M964.6 113.2h6M971.8 114.5v7.2M970.6 123.0h-6M963.4 121.7v-7.2M965.3 98.8h6M972.5 100.1v7.2M971.3 108.6h-6M964.1 107.3v-7.2M940.1 134.7h6M947.3 136.0v7.2M946.1 144.5h-6M938.9 143.2v-7.2M991.8 139.0h6M999.0 140.3v7.2M997.8 148.8h-6M990.6 147.5v-7.2M935.1 121.5h6M942.3 122.8v7.2M941.1 131.3h-6M933.9 130.0v-7.2M927.9 95.1h6M935.1 96.4v7.2M933.9 104.9h-6M926.7 103.6v-7.2M947.1 136.5h6M954.3 137.8v7.2M953.1 146.3h-6M945.9 145.0v-7.2M984.8 129.1h6M992.0 130.4v7.2M990.8 138.9h-6M983.6 137.6v-7.2M912.1 113.7h6M919.3 115.0v7.2M918.1 123.5h-6M910.9 122.2v-7.2M923.4 99.7h6M930.6 101.0v7.2M929.4 109.5h-6M922.2 108.2v-7.2M938.3 124.0h6M945.5 125.3v7.2M944.3 133.8h-6M937.1 132.5v-7.2M946.8 105.7h6M954.0 107.0v7.2M952.8 115.5h-6M945.6 114.2v-7.2M983.8 145.0h6M991.0 146.3v7.2M989.8 154.8h-6M982.6 153.5v-7.2M942.4 91.5h6M949.6 92.8v7.2M948.4 101.3h-6M941.2 100.0v-7.2M897.4 138.6h6M904.6 139.9v7.2M903.4 148.4h-6M896.2 147.1v-7.2M898.4 128.9h6M905.6 130.2v7.2M904.4 138.7h-6M897.2 137.4v-7.2M955.1 105.3h6M962.3 106.6v7.2M961.1 115.1h-6M953.9 113.8v-7.2M908.5 113.9h6M915.7 115.2v7.2M914.5 123.7h-6M907.3 122.4v-7.2M896.6 136.1h6M903.8 137.4v7.2M902.6 145.9h-6M895.4 144.6v-7.2M919.4 95.4h6M926.6 96.7v7.2M925.4 105.2h-6M918.2 103.9v-7.2M899.0 124.2h6M906.2 125.5v7.2M905.0 134.0h-6M897.8 132.7v-7.2M941.8 124.3h6M949.0 125.6v7.2M947.8 134.1h-6M940.6 132.8v-7.2M964.1 134.7h6M971.3 136.0v7.2M970.1 144.5h-6M962.9 143.2v-7.2M996.6 127.5h6M1003.8 128.8v7.2M1002.6 137.3h-6M995.4 136.0v-7.2M915.3 115.1h6M922.5 116.4v7.2M921.3 124.9h-6M914.1 123.6v-7.2M944.5 129.2h6M951.7 130.5v7.2M950.5 139.0h-6M943.3 137.7v-7.2M913.2 103.2h6M920.4 104.5v7.2M919.2 113.0h-6M912.0 111.7v-7.2M931.0 128.2h6M938.2 129.5v7.2M937.0 138.0h-6M929.8 136.7v-7.2M949.7 123.4h6M956.9 124.7v7.2M955.7 133.2h-6M948.5 131.9v-7.2M974.9 110.3h6M982.1 111.6v7.2M980.9 120.1h-6M973.7 118.8v-7.2M978.7 140.6h6M985.9 141.9v7.2M984.7 150.4h-6M977.5 149.1v-7.2M903.3 142.1h6M910.5 143.4v7.2M909.3 151.9h-6M902.1 150.6v-7.2M942.5 124.0h6M949.7 125.3v7.2M948.5 133.8h-6M941.3 132.5v-7.2M954.9 139.0h6M962.1 140.3v7.2M960.9 148.8h-6M953.7 147.5v-7.2M979.3 142.8h6M986.5 144.1v7.2M985.3 152.6h-6M978.1 151.3v-7.2M943.6 125.5h6M950.8 126.8v7.2M949.6 135.3h-6M942.4 134.0v-7.2M915.9 129.7h6M923.1 131.0v7.2M921.9 139.5h-6M914.7 138.2v-7.2M981.6 125.0h6M988.8 126.3v7.2M987.6 134.8h-6M980.4 133.5v-7.2M990.3 144.9h6M997.5 146.2v7.2M996.3 154.7h-6M989.1 153.4v-7.2M998.6 118.8h6M1005.8 120.1v7.2M1004.6 128.6h-6M997.4 127.3v-7.2M978.6 106.0h6M985.8 107.3v7.2M984.6 115.8h-6M977.4 114.5v-7.2M991.4 137.6h6M998.6 138.9v7.2M997.4 147.4h-6M990.2 146.1v-7.2M931.3 92.0h6M938.5 93.3v7.2M937.3 101.8h-6M930.1 100.5v-7.2M941.2 119.6h6M948.4 120.9v7.2M947.2 129.4h-6M940.0 128.1v-7.2M976.2 115.9h6M983.4 117.2v7.2M982.2 125.7h-6M975.0 124.4v-7.2M897.0 134.8h6M904.2 136.1v7.2M903.0 144.6h-6M895.8 143.3v-7.2M900.9 134.3h6M908.1 135.6v7.2M906.9 144.1h-6M899.7 142.8v-7.2M912.5 106.9h6M919.7 108.2v7.2M918.5 116.7h-6M911.3 115.4v-7.2M909.9 117.6h6M917.1 118.9v7.2M915.9 127.4h-6M908.7 126.1v-7.2M971.4 136.7h6M978.6 138.0v7.2M977.4 146.5h-6M970.2 145.2v-7.2M967.8 142.9h6M975.0 144.2v7.2M973.8 152.7h-6M966.6 151.4v-7.2M946.7 143.1h6M953.9 144.4v7.2M952.7 152.9h-6M945.5 151.6v-7.2M1078.4 88.6h6M1085.6 89.9v7.2M1084.4 98.4h-6M1077.2 97.1v-7.2M1100.9 93.4h6M1108.1 94.7v7.2M1106.9 103.2h-6M1099.7 101.9v-7.2M1111.2 117.8h6M1118.4 119.1v7.2M1117.2 127.6h-6M1110.0 126.3v-7.2M1100.7 132.2h6M1107.9 133.5v7.2M1106.7 142.0h-6M1099.5 140.7v-7.2M1102.6 94.9h6M1109.8 96.2v7.2M1108.6 104.7h-6M1101.4 103.4v-7.2M1093.4 132.3h6M1100.6 133.6v7.2M1099.4 142.1h-6M1092.2 140.8v-7.2M1117.4 140.9h6M1124.6 142.2v7.2M1123.4 150.7h-6M1116.2 149.4v-7.2M1100.7 113.2h6M1107.9 114.5v7.2M1106.7 123.0h-6M1099.5 121.7v-7.2M1084.2 110.6h6M1091.4 111.9v7.2M1090.2 120.4h-6M1083.0 119.1v-7.2M1099.7 115.5h6M1106.9 116.8v7.2M1105.7 125.3h-6M1098.5 124.0v-7.2M1100.3 101.1h6M1107.5 102.4v7.2M1106.3 110.9h-6M1099.1 109.6v-7.2M1114.9 112.5h6M1122.1 113.8v7.2M1120.9 122.3h-6M1113.7 121.0v-7.2M1099.0 121.5h6M1106.2 122.8v7.2M1105.0 131.3h-6M1097.8 130.0v-7.2M1077.4 110.8h6M1084.6 112.1v7.2M1083.4 120.6h-6M1076.2 119.3v-7.2M1095.1 140.1h6M1102.3 141.4v7.2M1101.1 149.9h-6M1093.9 148.6v-7.2M1146.8 82.0h6M1154.0 83.3v7.2M1152.8 91.8h-6M1145.6 90.5v-7.2M1145.7 130.2h6M1152.9 131.5v7.2M1151.7 140.0h-6M1144.5 138.7v-7.2M1158.3 106.5h6M1165.5 107.8v7.2M1164.3 116.3h-6M1157.1 115.0v-7.2M1142.6 86.5h6M1149.8 87.8v7.2M1148.6 96.3h-6M1141.4 95.0v-7.2M1150.7 137.9h6M1157.9 139.2v7.2M1156.7 147.7h-6M1149.5 146.4v-7.2M1137.5 127.7h6M1144.7 129.0v7.2M1143.5 137.5h-6M1136.3 136.2v-7.2M1134.6 86.7h6M1141.8 88.0v7.2M1140.6 96.5h-6M1133.4 95.2v-7.2M1140.1 121.2h6M1147.3 122.5v7.2M1146.1 131.0h-6M1138.9 129.7v-7.2M1142.7 98.0h6M1149.9 99.3v7.2M1148.7 107.8h-6M1141.5 106.5v-7.2M1150.7 80.4h6M1157.9 81.7v7.2M1156.7 90.2h-6M1149.5 88.9v-7.2"/>
</g></g>
<rect x="114" y="15" width="603" height="488" fill="none" stroke="#000" stroke-width="2"/>
<line x1="104.0" y1="503.0" x2="114.0" y2="503.0" stroke="#000" stroke-width="2"/>
<line x1="717.0" y1="503.0" x2="709.0" y2="503.0" stroke="#000" stroke-width="2"/>
<text x="99.5" y="511.6" font-size="30" text-anchor="end" font-family="Liberation Sans, sans-serif" font-weight="bold" >18</text>
<line x1="104.0" y1="448.8" x2="114.0" y2="448.8" stroke="#000" stroke-width="2"/>
<line x1="717.0" y1="448.8" x2="709.0" y2="448.8" stroke="#000" stroke-width="2"/>
<text x="99.5" y="457.4" font-size="30" text-anchor="end" font-family="Liberation Sans, sans-serif" font-weight="bold" >19</text>
<line x1="104.0" y1="394.6" x2="114.0" y2="394.6" stroke="#000" stroke-width="2"/>
<line x1="717.0" y1="394.6" x2="709.0" y2="394.6" stroke="#000" stroke-width="2"/>
<text x="99.5" y="403.2" font-size="30" text-anchor="end" font-family="Liberation Sans, sans-serif" font-weight="bold" >20</text>
<line x1="104.0" y1="340.3" x2="114.0" y2="340.3" stroke="#000" stroke-width="2"/>
<line x1="717.0" y1="340.3" x2="709.0" y2="340.3" stroke="#000" stroke-width="2"/>
<text x="99.5" y="348.9" font-size="30" text-anchor="end" font-family="Liberation Sans, sans-serif" font-weight="bold" >21</text>
<line x1="104.0" y1="286.1" x2="114.0" y2="286.1" stroke="#000" stroke-width="2"/>
<line x1="717.0" y1="286.1" x2="709.0" y2="286.1" stroke="#000" stroke-width="2"/>
<text x="99.5" y="294.7" font-size="30" text-anchor="end" font-family="Liberation Sans, sans-serif" font-weight="bold" >22</text>
<line x1="104.0" y1="231.9" x2="114.0" y2="231.9" stroke="#000" stroke-width="2"/>
<line x1="717.0" y1="231.9" x2="709.0" y2="231.9" stroke="#000" stroke-width="2"/>
<text x="99.5" y="240.5" font-size="30" text-anchor="end" font-family="Liberation Sans, sans-serif" font-weight="bold" >23</text>
<line x1="104.0" y1="177.7" x2="114.0" y2="177.7" stroke="#000" stroke-width="2"/>
<line x1="717.0" y1="177.7" x2="709.0" y2="177.7" stroke="#000" stroke-width="2"/>
<text x="99.5" y="186.3" font-size="30" text-anchor="end" font-family="Liberation Sans, sans-serif" font-weight="bold" >24</text>
<line x1="104.0" y1="123.4" x2="114.0" y2="123.4" stroke="#000" stroke-width="2"/>
<line x1="717.0" y1="123.4" x2="709.0" y2="123.4" stroke="#000" stroke-width="2"/>
<text x="99.5" y="132.0" font-size="30" text-anchor="end" font-family="Liberation Sans, sans-serif" font-weight="bold" >25</text>
<line x1="104.0" y1="69.2" x2="114.0" y2="69.2" stroke="#000" stroke-width="2"/>
<line x1="717.0" y1="69.2" x2="709.0" y2="69.2" stroke="#000" stroke-width="2"/>
<text x="99.5" y="77.8" font-size="30" text-anchor="end" font-family="Liberation Sans, sans-serif" font-weight="bold" >26</text>
<line x1="104.0" y1="15.0" x2="114.0" y2="15.0" stroke="#000" stroke-width="2"/>
<line x1="717.0" y1="15.0" x2="709.0" y2="15.0" stroke="#000" stroke-width="2"/>
<text x="99.5" y="23.6" font-size="30" text-anchor="end" font-family="Liberation Sans, sans-serif" font-weight="bold" >27</text>
<line x1="109.0" y1="475.9" x2="114.0" y2="475.9" stroke="#000" stroke-width="2"/>
<line x1="717.0" y1="475.9" x2="711.0" y2="475.9" stroke="#000" stroke-width="2"/>
<line x1="109.0" y1="421.7" x2="114.0" y2="421.7" stroke="#000" stroke-width="2"/>
<line x1="717.0" y1="421.7" x2="711.0" y2="421.7" stroke="#000" stroke-width="2"/>
<line x1="109.0" y1="367.4" x2="114.0" y2="367.4" stroke="#000" stroke-width="2"/>
<line x1="717.0" y1="367.4" x2="711.0" y2="367.4" stroke="#000" stroke-width="2"/>
<line x1="109.0" y1="313.2" x2="114.0" y2="313.2" stroke="#000" stroke-width="2"/>
<line x1="717.0" y1="313.2" x2="711.0" y2="313.2" stroke="#000" stroke-width="2"/>
<line x1="109.0" y1="259.0" x2="114.0" y2="259.0" stroke="#000" stroke-width="2"/>
<line x1="717.0" y1="259.0" x2="711.0" y2="259.0" stroke="#000" stroke-width="2"/>
<line x1="109.0" y1="204.8" x2="114.0" y2="204.8" stroke="#000" stroke-width="2"/>
<line x1="717.0" y1="204.8" x2="711.0" y2="204.8" stroke="#000" stroke-width="2"/>
<line x1="109.0" y1="150.6" x2="114.0" y2="150.6" stroke="#000" stroke-width="2"/>
<line x1="717.0" y1="150.6" x2="711.0" y2="150.6" stroke="#000" stroke-width="2"/>
<line x1="109.0" y1="96.3" x2="114.0" y2="96.3" stroke="#000" stroke-width="2"/>
<line x1="717.0" y1="96.3" x2="711.0" y2="96.3" stroke="#000" stroke-width="2"/>
<line x1="109.0" y1="42.1" x2="114.0" y2="42.1" stroke="#000" stroke-width="2"/>
<line x1="717.0" y1="42.1" x2="711.0" y2="42.1" stroke="#000" stroke-width="2"/>
<line x1="114.0" y1="503.0" x2="114.0" y2="511.0" stroke="#000" stroke-width="2"/>
<line x1="114.0" y1="15.0" x2="114.0" y2="23.0" stroke="#000" stroke-width="2"/>
<text x="114.0" y="541.3" font-size="30" text-anchor="middle" font-family="Liberation Sans, sans-serif" font-weight="bold" >00:00</text>
<line x1="223.5" y1="503.0" x2="223.5" y2="511.0" stroke="#000" stroke-width="2"/>
<line x1="223.5" y1="15.0" x2="223.5" y2="23.0" stroke="#000" stroke-width="2"/>
<text x="223.5" y="541.3" font-size="30" text-anchor="middle" font-family="Liberation Sans, sans-serif" font-weight="bold" >01:00</text>
<line x1="333.0" y1="503.0" x2="333.0" y2="511.0" stroke="#000" stroke-width="2"/>
<line x1="333.0" y1="15.0" x2="333.0" y2="23.0" stroke="#000" stroke-width="2"/>
<text x="333.0" y="541.3" font-size="30" text-anchor="middle" font-family="Liberation Sans, sans-serif" font-weight="bold" >02:00</text>
<line x1="442.5" y1="503.0" x2="442.5" y2="511.0" stroke="#000" stroke-width="2"/>
<line x1="442.5" y1="15.0" x2="442.5" y2="23.0" stroke="#000" stroke-width="2"/>
<text x="442.5" y="541.3" font-size="30" text-anchor="middle" font-family="Liberation Sans, sans-serif" font-weight="bold" >03:00</text>
<line x1="552.0" y1="503.0" x2="552.0" y2="511.0" stroke="#000" stroke-width="2"/>
<line x1="552.0" y1="15.0" x2="552.0" y2="23.0" stroke="#000" stroke-width="2"/>
<text x="552.0" y="541.3" font-size="30" text-anchor="middle" font-family="Liberation Sans, sans-serif" font-weight="bold" >04:00</text>
<line x1="661.5" y1="503.0" x2="661.5" y2="511.0" stroke="#000" stroke-width="2"/>
<line x1="661.5" y1="15.0" x2="661.5" y2="23.0" stroke="#000" stroke-width="2"/>
<text x="661.5" y="541.3" font-size="30" text-anchor="middle" font-family="Liberation Sans, sans-serif" font-weight="bold" >05:00</text>
<line x1="168.8" y1="503.0" x2="168.8" y2="508.0" stroke="#000" stroke-width="2"/>
<line x1="168.8" y1="15.0" x2="168.8" y2="20.0" stroke="#000" stroke-width="2"/>
<line x1="278.2" y1="503.0" x2="278.2" y2="508.0" stroke="#000" stroke-width="2"/>
<line x1="278.2" y1="15.0" x2="278.2" y2="20.0" stroke="#000" stroke-width="2"/>
<line x1="387.8" y1="503.0" x2="387.8" y2="508.0" stroke="#000" stroke-width="2"/>
<line x1="387.8" y1="15.0" x2="387.8" y2="20.0" stroke="#000" stroke-width="2"/>
<line x1="497.2" y1="503.0" x2="497.2" y2="508.0" stroke="#000" stroke-width="2"/>
<line x1="497.2" y1="15.0" x2="497.2" y2="20.0" stroke="#000" stroke-width="2"/>
<line x1="606.8" y1="503.0" x2="606.8" y2="508.0" stroke="#000" stroke-width="2"/>
<line x1="606.8" y1="15.0" x2="606.8" y2="20.0" stroke="#000" stroke-width="2"/>
<line x1="716.2" y1="503.0" x2="716.2" y2="508.0" stroke="#000" stroke-width="2"/>
<line x1="716.2" y1="15.0" x2="716.2" y2="20.0" stroke="#000" stroke-width="2"/>
<rect x="897.5" y="21" width="596.5" height="481" fill="none" stroke="#000" stroke-width="2"/>
<line x1="887.0" y1="501.3" x2="898.0" y2="501.3" stroke="#000" stroke-width="2"/>
<line x1="1494.0" y1="501.3" x2="1486.0" y2="501.3" stroke="#000" stroke-width="2"/>
<text x="882.3" y="509.9" font-size="30" text-anchor="end" font-family="Liberation Sans, sans-serif" font-weight="bold" >16.0</text>
<line x1="887.0" y1="444.7" x2="898.0" y2="444.7" stroke="#000" stroke-width="2"/>
<line x1="1494.0" y1="444.7" x2="1486.0" y2="444.7" stroke="#000" stroke-width="2"/>
<text x="882.3" y="453.3" font-size="30" text-anchor="end" font-family="Liberation Sans, sans-serif" font-weight="bold" >16.5</text>
<line x1="887.0" y1="388.1" x2="898.0" y2="388.1" stroke="#000" stroke-width="2"/>
<line x1="1494.0" y1="388.1" x2="1486.0" y2="388.1" stroke="#000" stroke-width="2"/>
<text x="882.3" y="396.7" font-size="30" text-anchor="end" font-family="Liberation Sans, sans-serif" font-weight="bold" >17.0</text>
<line x1="887.0" y1="331.5" x2="898.0" y2="331.5" stroke="#000" stroke-width="2"/>
<line x1="1494.0" y1="331.5" x2="1486.0" y2="331.5" stroke="#000" stroke-width="2"/>
<text x="882.3" y="340.1" font-size="30" text-anchor="end" font-family="Liberation Sans, sans-serif" font-weight="bold" >17.5</text>
<line x1="887.0" y1="274.9" x2="898.0" y2="274.9" stroke="#000" stroke-width="2"/>
<line x1="1494.0" y1="274.9" x2="1486.0" y2="274.9" stroke="#000" stroke-width="2"/>
<text x="882.3" y="283.5" font-size="30" text-anchor="end" font-family="Liberation Sans, sans-serif" font-weight="bold" >18.0</text>
<line x1="887.0" y1="218.3" x2="898.0" y2="218.3" stroke="#000" stroke-width="2"/>
<line x1="1494.0" y1="218.3" x2="1486.0" y2="218.3" stroke="#000" stroke-width="2"/>
<text x="882.3" y="226.9" font-size="30" text-anchor="end" font-family="Liberation Sans, sans-serif" font-weight="bold" >18.5</text>
<line x1="887.0" y1="161.7" x2="898.0" y2="161.7" stroke="#000" stroke-width="2"/>
<line x1="1494.0" y1="161.7" x2="1486.0" y2="161.7" stroke="#000" stroke-width="2"/>
<text x="882.3" y="170.3" font-size="30" text-anchor="end" font-family="Liberation Sans, sans-serif" font-weight="bold" >19.0</text>
<line x1="887.0" y1="105.1" x2="898.0" y2="105.1" stroke="#000" stroke-width="2"/>
<line x1="1494.0" y1="105.1" x2="1486.0" y2="105.1" stroke="#000" stroke-width="2"/>
<text x="882.3" y="113.7" font-size="30" text-anchor="end" font-family="Liberation Sans, sans-serif" font-weight="bold" >19.5</text>
<line x1="887.0" y1="48.5" x2="898.0" y2="48.5" stroke="#000" stroke-width="2"/>
<line x1="1494.0" y1="48.5" x2="1486.0" y2="48.5" stroke="#000" stroke-width="2"/>
<text x="882.3" y="57.1" font-size="30" text-anchor="end" font-family="Liberation Sans, sans-serif" font-weight="bold" >20.0</text>
<line x1="892.0" y1="473.0" x2="898.0" y2="473.0" stroke="#000" stroke-width="2"/>
<line x1="1494.0" y1="473.0" x2="1488.0" y2="473.0" stroke="#000" stroke-width="2"/>
<line x1="892.0" y1="416.4" x2="898.0" y2="416.4" stroke="#000" stroke-width="2"/>
<line x1="1494.0" y1="416.4" x2="1488.0" y2="416.4" stroke="#000" stroke-width="2"/>
<line x1="892.0" y1="359.8" x2="898.0" y2="359.8" stroke="#000" stroke-width="2"/>
<line x1="1494.0" y1="359.8" x2="1488.0" y2="359.8" stroke="#000" stroke-width="2"/>
<line x1="892.0" y1="303.2" x2="898.0" y2="303.2" stroke="#000" stroke-width="2"/>
<line x1="1494.0" y1="303.2" x2="1488.0" y2="303.2" stroke="#000" stroke-width="2"/>
<line x1="892.0" y1="246.6" x2="898.0" y2="246.6" stroke="#000" stroke-width="2"/>
<line x1="1494.0" y1="246.6" x2="1488.0" y2="246.6" stroke="#000" stroke-width="2"/>
<line x1="892.0" y1="190.0" x2="898.0" y2="190.0" stroke="#000" stroke-width="2"/>
<line x1="1494.0" y1="190.0" x2="1488.0" y2="190.0" stroke="#000" stroke-width="2"/>
<line x1="892.0" y1="133.4" x2="898.0" y2="133.4" stroke="#000" stroke-width="2"/>
<line x1="1494.0" y1="133.4" x2="1488.0" y2="133.4" stroke="#000" stroke-width="2"/>
<line x1="892.0" y1="76.8" x2="898.0" y2="76.8" stroke="#000" stroke-width="2"/>
<line x1="1494.0" y1="76.8" x2="1488.0" y2="76.8" stroke="#000" stroke-width="2"/>
<line x1="897.6" y1="502.0" x2="897.6" y2="510.0" stroke="#000" stroke-width="2"/>
<line x1="897.6" y1="21.0" x2="897.6" y2="29.0" stroke="#000" stroke-width="2"/>
<text x="897.6" y="537.6" font-size="30" text-anchor="middle" font-family="Liberation Sans, sans-serif" font-weight="bold" >00:00</text>
<line x1="1006.2" y1="502.0" x2="1006.2" y2="510.0" stroke="#000" stroke-width="2"/>
<line x1="1006.2" y1="21.0" x2="1006.2" y2="29.0" stroke="#000" stroke-width="2"/>
<text x="1006.2" y="537.6" font-size="30" text-anchor="middle" font-family="Liberation Sans, sans-serif" font-weight="bold" >01:00</text>
<line x1="1114.8" y1="502.0" x2="1114.8" y2="510.0" stroke="#000" stroke-width="2"/>
<line x1="1114.8" y1="21.0" x2="1114.8" y2="29.0" stroke="#000" stroke-width="2"/>
<text x="1114.8" y="537.6" font-size="30" text-anchor="middle" font-family="Liberation Sans, sans-serif" font-weight="bold" >02:00</text>
<line x1="1223.4" y1="502.0" x2="1223.4" y2="510.0" stroke="#000" stroke-width="2"/>
<line x1="1223.4" y1="21.0" x2="1223.4" y2="29.0" stroke="#000" stroke-width="2"/>
<text x="1223.4" y="537.6" font-size="30" text-anchor="middle" font-family="Liberation Sans, sans-serif" font-weight="bold" >03:00</text>
<line x1="1332.0" y1="502.0" x2="1332.0" y2="510.0" stroke="#000" stroke-width="2"/>
<line x1="1332.0" y1="21.0" x2="1332.0" y2="29.0" stroke="#000" stroke-width="2"/>
<text x="1332.0" y="537.6" font-size="30" text-anchor="middle" font-family="Liberation Sans, sans-serif" font-weight="bold" >04:00</text>
<line x1="1440.6" y1="502.0" x2="1440.6" y2="510.0" stroke="#000" stroke-width="2"/>
<line x1="1440.6" y1="21.0" x2="1440.6" y2="29.0" stroke="#000" stroke-width="2"/>
<text x="1440.6" y="537.6" font-size="30" text-anchor="middle" font-family="Liberation Sans, sans-serif" font-weight="bold" >05:00</text>
<line x1="951.9" y1="502.0" x2="951.9" y2="507.0" stroke="#000" stroke-width="2"/>
<line x1="951.9" y1="21.0" x2="951.9" y2="26.0" stroke="#000" stroke-width="2"/>
<line x1="1060.5" y1="502.0" x2="1060.5" y2="507.0" stroke="#000" stroke-width="2"/>
<line x1="1060.5" y1="21.0" x2="1060.5" y2="26.0" stroke="#000" stroke-width="2"/>
<line x1="1169.1" y1="502.0" x2="1169.1" y2="507.0" stroke="#000" stroke-width="2"/>
<line x1="1169.1" y1="21.0" x2="1169.1" y2="26.0" stroke="#000" stroke-width="2"/>
<line x1="1277.7" y1="502.0" x2="1277.7" y2="507.0" stroke="#000" stroke-width="2"/>
<line x1="1277.7" y1="21.0" x2="1277.7" y2="26.0" stroke="#000" stroke-width="2"/>
<line x1="1386.3" y1="502.0" x2="1386.3" y2="507.0" stroke="#000" stroke-width="2"/>
<line x1="1386.3" y1="21.0" x2="1386.3" y2="26.0" stroke="#000" stroke-width="2"/>
<line x1="1494.9" y1="502.0" x2="1494.9" y2="507.0" stroke="#000" stroke-width="2"/>
<line x1="1494.9" y1="21.0" x2="1494.9" y2="26.0" stroke="#000" stroke-width="2"/>
<text x="305.0" y="587.0" font-size="30.3" text-anchor="start" font-family="Liberation Sans, sans-serif" font-weight="bold" >Time (Hours)</text>
<text x="1081.5" y="589.0" font-size="29.3" text-anchor="start" font-family="Liberation Sans, sans-serif" font-weight="bold" >Time (Hours)</text>
<text transform="translate(27,418.5) rotate(-90)" font-size="30" font-family="Liberation Sans, sans-serif" font-weight="bold">Repetition Rates (kHz)</text>
<text transform="translate(796.5,394) rotate(-90)" font-size="29.1" font-family="Liberation Sans, sans-serif" font-weight="bold">Pulse Duration (&#181;s)</text>
<rect x="125.4" y="26" width="491.30000000000007" height="55.2" fill="#000"/>
<rect x="118.5" y="19.5" width="491.0" height="54.5" fill="#fff" stroke="#000" stroke-width="1.6"/>
<path d="M143.0 29.6h6M150.2 30.9v7.2M149.0 39.4h-6M141.8 38.1v-7.2" fill="none" stroke="#f00" stroke-width="1.6"/>
<circle cx="146" cy="60" r="5.5" fill="#00f"/>
<text x="173.4" y="41.8" font-size="18.5" text-anchor="start" font-family="Liberation Sans, sans-serif" font-weight="bold" letter-spacing="1.05">Repetition rates of SA prepared using SM</text>
<text x="173.4" y="67.3" font-size="18.5" text-anchor="start" font-family="Liberation Sans, sans-serif" font-weight="bold" letter-spacing="1.05">Repetition rates of SA prepared using PLDT</text>
<rect x="662.2" y="29.8" width="45.5" height="40.7" fill="#000"/>
<rect x="657" y="25" width="44" height="40" fill="#fff" stroke="#000" stroke-width="1.6"/>
<text x="659.8" y="56.3" font-size="30" text-anchor="start" font-family="Liberation Sans, sans-serif" font-weight="bold" >(a)</text>
<rect x="906.5" y="407.6" width="485.5" height="56.89999999999998" fill="#000"/>
<rect x="901.5" y="403" width="484.0" height="54.5" fill="#fff" stroke="#000" stroke-width="1.6"/>
<path d="M926.0 411.6h6M933.2 412.9v7.2M932.0 421.4h-6M924.8 420.1v-7.2" fill="none" stroke="#f00" stroke-width="1.6"/>
<circle cx="929" cy="443.5" r="5.5" fill="#00f"/>
<text x="957.6" y="423.3" font-size="21" text-anchor="start" font-family="Liberation Sans, sans-serif" font-weight="bold" >Pulse Duration of SA prepared using SM</text>
<text x="957.6" y="450.7" font-size="21" text-anchor="start" font-family="Liberation Sans, sans-serif" font-weight="bold" >Pulse Duration of SA prepared using PLDT</text>
<rect x="1441.5" y="32" width="45.5" height="40.8" fill="#000"/>
<rect x="1434.5" y="25" width="46.0" height="41.5" fill="#fff" stroke="#000" stroke-width="1.6"/>
<text x="1438.6" y="56.3" font-size="29.5" text-anchor="start" font-family="Liberation Sans, sans-serif" font-weight="bold" >(b)</text>
</svg></body></html>
